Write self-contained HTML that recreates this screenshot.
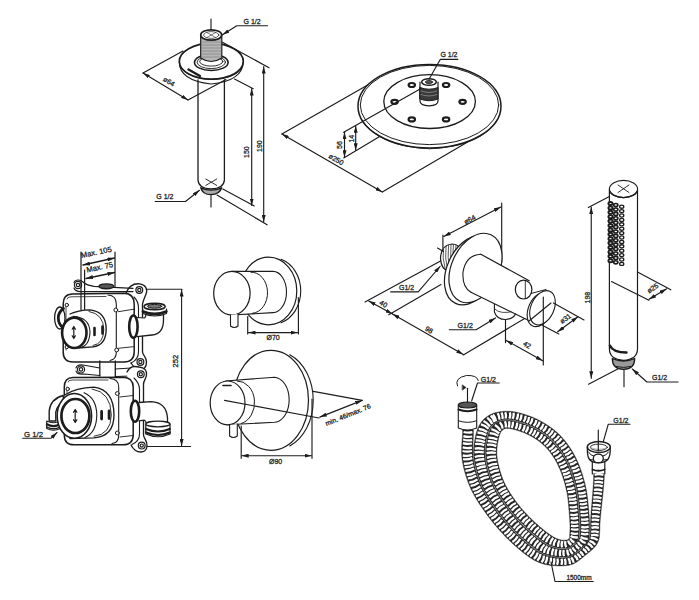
<!DOCTYPE html>
<html><head><meta charset="utf-8"><style>
html,body{margin:0;padding:0;background:#fff;}
svg{display:block;}
text{font-family:"Liberation Sans",sans-serif;fill:#1c1c1c;}
</style></head><body>
<svg width="699" height="600" viewBox="0 0 699 600">
<defs>
<marker id="ar" viewBox="0 0 10 4" refX="10" refY="2" markerWidth="7" markerHeight="4" orient="auto-start-reverse" markerUnits="userSpaceOnUse" preserveAspectRatio="none"><path d="M0,0 L10,2 L0,4 z" fill="#1c1c1c"/></marker>
</defs>
<rect width="699" height="600" fill="#fff"/>
<g fill="none" stroke="#1c1c1c" stroke-width="1.15" stroke-linecap="round" stroke-linejoin="round">
<!-- ===== C1: ceiling arm ===== -->
<g id="c1">
<!-- axis top -->
<line x1="211" y1="19" x2="211" y2="32"/>
<!-- pipe -->
<path d="M198,80 L198,180 Q198.5,188.5 211,189 Q223.9,188.5 224.4,180 L224.4,80" stroke-width="1.3"/>
<path d="M205.8,179 L216.7,185.4 M205.8,185.4 L216.7,179" stroke-width="0.9"/>
<!-- bottom nut -->
<path d="M200.8,187.8 Q211,192.5 221.7,187.8 Q219.5,194.6 211,194.6 Q202.5,194.6 200.8,187.8 Z" fill="#aaa" stroke-width="1.4"/>
<line x1="211" y1="195" x2="211" y2="207"/>
<!-- flange -->
<path d="M179.3,62 Q179.5,80.5 211,84 Q242.5,81 243.3,62" stroke-width="1.1"/>
<path d="M181,68 Q190,78.5 211,79.5 Q234,79 241.5,69" stroke-width="0.9"/>
<ellipse cx="211.3" cy="61.3" rx="32" ry="17.9" stroke-width="1.7"/>
<path d="M188.5,69.5 L200,76" stroke-width="2.4"/>
<!-- nut ring -->
<ellipse cx="211.3" cy="62.4" rx="16.8" ry="8.1" stroke-width="1.6"/>
<ellipse cx="211.3" cy="62.2" rx="14.2" ry="6.4" stroke-width="0.9"/>
<ellipse cx="211.3" cy="61.5" rx="11.6" ry="4.6" stroke-width="0.9"/>
<!-- nipple -->
<path d="M200.7,35 L200.7,58 Q211,65 221.8,58 L221.8,35" fill="#b5b5b5" stroke-width="1.2"/>
<path d="M201.5,42 h19.5 M201.5,45 h19.5 M201.5,48 h19.5 M201.5,51 h19.5 M201.5,54 h19.5 M201.5,57 h19.5" stroke="#888" stroke-width="0.8"/>
<ellipse cx="211.2" cy="35" rx="10.5" ry="5.2" fill="#fff" stroke-width="1.7"/>
<ellipse cx="211.2" cy="35" rx="7.6" ry="3.4" stroke-width="0.7"/>
<path d="M207,32.5 L215.5,37.5 M207,37.5 L215.5,32.5" stroke-width="0.6"/>
<!-- G1/2 leader -->
<path d="M267.5,25.75 H236.75 L222.5,34.75" marker-end="url(#ar)"/>
<text x="243.5" y="23.6" font-size="7" stroke="#1c1c1c" stroke-width="0.28">G 1/2</text>
<!-- ø64 -->
<path d="M183,51 L143,73"/>
<path d="M226,79.5 L188,100"/>
<line x1="143" y1="73" x2="188" y2="100" marker-start="url(#ar)" marker-end="url(#ar)"/>
<text x="0" y="0" font-size="7" stroke="#1c1c1c" stroke-width="0.28" transform="translate(162.5,80.5) rotate(31)">ø64</text>
<!-- 190 -->
<path d="M222.5,42.25 L269,67.75"/>
<line x1="263.7" y1="66.5" x2="263.7" y2="222" marker-start="url(#ar)" marker-end="url(#ar)"/>
<path d="M217,195 L267.1,224.8"/>
<text x="0" y="0" font-size="7" stroke="#1c1c1c" stroke-width="0.28" transform="translate(261.5,152) rotate(-90)">190</text>
<!-- 150 -->
<path d="M234.5,79 L253.25,88.75"/>
<line x1="251.7" y1="88.5" x2="251.7" y2="205.5" marker-start="url(#ar)" marker-end="url(#ar)"/>
<path d="M222.8,189.1 L254.3,206"/>
<text x="0" y="0" font-size="7" stroke="#1c1c1c" stroke-width="0.28" transform="translate(249,158) rotate(-90)">150</text>
<!-- bottom G1/2 -->
<path d="M155.2,201.5 H185.5 L199.5,190.3" marker-end="url(#ar)"/>
<text x="156.3" y="199.4" font-size="7" stroke="#1c1c1c" stroke-width="0.28">G 1/2</text>
</g>

<!-- ===== C2: shower head ===== -->
<g id="c2">
<ellipse cx="429.5" cy="106.2" rx="71.5" ry="41.8" stroke-width="1.5"/>
<ellipse cx="429.5" cy="105" rx="69.2" ry="39.6" stroke-width="1"/>
<path d="M362,120 Q378,146 429.5,148.8 Q482,146 497,120" stroke-width="0.9"/>
<ellipse cx="429.6" cy="101.6" rx="45.8" ry="26.9" stroke-width="1.3"/>
<g fill="#fff" stroke-width="2.2">
<ellipse cx="411.8" cy="85" rx="3.2" ry="2"/>
<ellipse cx="446.1" cy="85" rx="3.2" ry="2"/>
<ellipse cx="394.6" cy="101.8" rx="3.2" ry="2"/>
<ellipse cx="462.6" cy="101.8" rx="3.2" ry="2"/>
<ellipse cx="411.8" cy="119.4" rx="3.2" ry="2"/>
<ellipse cx="446.1" cy="119.4" rx="3.2" ry="2"/>
</g>
<!-- nipple -->
<path d="M420,82 L420,101 Q420,105.5 429,105.8 Q438,105.5 438,101 L438,82" fill="#fff" stroke-width="1.2"/>
<path d="M420,87.5 Q429,91 438,87.5 L438,99 Q429,102.5 420,99 Z" fill="#3a3a3a" stroke-width="1"/>
<path d="M421,91 Q429,94 437,91 M421,94.5 Q429,97.5 437,94.5" stroke="#aaa" stroke-width="0.6"/>
<ellipse cx="429" cy="82" rx="7.3" ry="3.3" fill="#fff" stroke-width="1.5"/>
<ellipse cx="429" cy="82" rx="3.6" ry="1.6" fill="#555" stroke-width="0.8"/>
<!-- G1/2 -->
<path d="M457.9,59.3 H440.4 L429,79.3"/>
<text x="440.4" y="57.4" font-size="7" stroke="#1c1c1c" stroke-width="0.28">G 1/2</text>
<!-- ø250 -->
<path d="M281.9,134 L368.6,84.6"/>
<line x1="281.9" y1="134" x2="382.3" y2="192" marker-start="url(#ar)" marker-end="url(#ar)"/>
<path d="M382.3,192 L467.2,142.3"/>
<text x="0" y="0" font-size="7" stroke="#1c1c1c" stroke-width="0.28" transform="translate(328,157.5) rotate(30)">ø250</text>
<!-- 56 / 14 -->
<path d="M343.7,132.3 L421,88.5"/>
<path d="M343.7,158 L379.7,136.6"/>
<line x1="344.5" y1="132.3" x2="344.5" y2="157.2" marker-start="url(#ar)" marker-end="url(#ar)"/>
<line x1="355.7" y1="125.8" x2="355.7" y2="150.3" marker-start="url(#ar)" marker-end="url(#ar)"/>
<text x="0" y="0" font-size="7" stroke="#1c1c1c" stroke-width="0.28" transform="translate(342,149) rotate(-90)">56</text>
<text x="0" y="0" font-size="7" stroke="#1c1c1c" stroke-width="0.28" transform="translate(353.5,142.6) rotate(-90)">14</text>
</g>

<!-- ===== C3: thermostatic body ===== -->
<g id="c3" stroke-width="1.35">
<!-- Max dims -->
<line x1="83" y1="265" x2="114.5" y2="258" marker-start="url(#ar)" marker-end="url(#ar)"/>
<line x1="86" y1="278.5" x2="114.5" y2="272.5" marker-start="url(#ar)" marker-end="url(#ar)"/>
<text x="0" y="0" font-size="7.6" stroke="#1c1c1c" stroke-width="0.28" transform="translate(81.5,258) rotate(-12)">Max. 105</text>
<text x="0" y="0" font-size="7.6" stroke="#1c1c1c" stroke-width="0.28" transform="translate(87,272.5) rotate(-12)">Max. 75</text>
<!-- 252 -->
<path d="M146,289.2 H182" stroke-width="1.1"/>
<path d="M146.7,446.5 H190.6" stroke-width="1.1"/>
<line x1="181.6" y1="289.5" x2="181.6" y2="446" stroke-width="1.1" marker-start="url(#ar)" marker-end="url(#ar)"/>
<text x="0" y="0" font-size="7.6" stroke="#1c1c1c" stroke-width="0.28" transform="translate(178,367.5) rotate(-90)">252</text>
<!-- G1/2 -->
<path d="M22.7,438.2 H51.2 L57,432.5" stroke-width="1.1" marker-end="url(#ar)"/>
<text x="24" y="436.6" font-size="7.8" stroke="#1c1c1c" stroke-width="0.28">G 1/2</text>

<!-- ===== upper module ===== -->
<!-- right bracket upper -->
<path d="M126,293 C129,285 135,283.5 139.5,283.8 C145.5,284.5 148,289 146,294 C144.5,298 143,301 142.5,304 L142.5,352 C143,356 146.5,357 146.5,362 C146.5,368 143,370 140.5,370 C136,370 133,366 131,363" fill="#fff"/>
<path d="M134,297 C137,300 138.5,303 138.5,308 L138.5,352 C138.5,357 135.5,361 131,363" stroke-width="1.1"/>
<!-- top rail -->
<path d="M74,282.5 C75,279.5 80,279 83,282 Q87,285.5 94,286.3 L133,288.3" fill="none" stroke-width="1.2"/>
<path d="M74,288 C75,291 78,291.8 82,291.5 L133,291.6" fill="none" stroke-width="1.2"/>
<!-- upper box -->
<path d="M72,294 L124,293.2 Q134,293.5 134.2,304 L134.2,352 Q134,362 124,362 L73,362 Q63.2,362 63.2,352 L63.2,304 Q63.2,294.2 72,294 Z" fill="#fff" stroke-width="1.5"/>
<path d="M108,295 Q116.3,295.5 116.3,304 L116.3,352 Q116.3,359.5 110,360.5" stroke-width="1.1"/>
<path d="M67,299 Q67,297 71,296.8 L106,296.5 M66,304 L66,350" stroke-width="0.8"/>
<path d="M118.3,311.7 L134,309.2 M118.3,348.3 L133.3,346.7" stroke-width="0.9"/>
<g fill="#fff" stroke-width="1"><circle cx="66.8" cy="305" r="1.7"/><circle cx="115.8" cy="310" r="1.9"/><circle cx="116.7" cy="350" r="1.9"/><circle cx="66.8" cy="347" r="1.7"/></g>
<!-- rings upper -->
<g fill="#fff" stroke-width="1.2">
<circle cx="78" cy="285" r="3.6"/><circle cx="78" cy="285" r="1.7"/>
<circle cx="139.3" cy="290" r="3.4"/><circle cx="139.3" cy="290" r="1.6"/>
<circle cx="140.4" cy="362" r="3.4"/><circle cx="140.4" cy="362" r="1.6"/>
</g>
<ellipse cx="106.3" cy="286.3" rx="7.3" ry="2.4" fill="#555" stroke-width="1.4"/>
<!-- ext lines over box -->
<line x1="81" y1="252" x2="81" y2="313" stroke-width="1.2"/>
<line x1="115" y1="252" x2="115" y2="287" stroke-width="1.2"/>
<line x1="84.6" y1="270" x2="84.6" y2="313" stroke-width="1.2"/>
<!-- left cap upper -->
<ellipse cx="59.8" cy="318" rx="5.2" ry="11" fill="#fff" stroke-width="1.3"/>
<path d="M63.5,308.5 Q58.3,312 58.3,318 Q58.3,324.5 63.5,328" stroke-width="2.8"/>
<!-- knob upper -->
<path d="M70,314 Q78,310 90,309.8 Q106,311.5 106.2,329 Q106,345.5 93,346.8 L78,348" fill="#fff"/>
<path d="M89,311.5 Q103.5,314 103.8,329.5 Q103.5,344 93,345.5" stroke-width="0.9"/>
<path d="M94.5,328 v7 M102.5,326.5 v7" stroke-width="2.6"/>
<path d="M73,316.3 Q89.5,317.5 90,332 Q89.5,346 80,347.5" stroke-width="1.1"/>
<ellipse cx="74.3" cy="332.8" rx="12.2" ry="15.2" fill="#fff" stroke-width="2.6"/>
<path d="M73.8,327 v11 M72.2,329.2 L73.8,326.5 L75.4,329.2 M72.2,335.8 L73.8,338.5 L75.4,335.8" stroke-width="1.2"/>
<!-- upper elbow -->
<path d="M137,317.5 L144.5,318 Q146,317 146,313.5 L163.5,313.5 L163.5,320 Q163.5,334 152,335 L137,336.6 Z" fill="#fff" stroke="none"/>
<path d="M137,317.5 L144.5,318 Q146,317 146,313.5" stroke-width="1.2"/>
<path d="M137,336.6 L152,335 Q163.5,334 163.5,320 L163.5,313.5" stroke-width="1.3"/>
<path d="M142.8,309 L142.8,313.5 Q154.6,318.5 166.5,313.5 L166.5,309" fill="#fff" stroke-width="1.2"/>
<path d="M143,311.5 Q154.6,316.5 166.3,311.5" stroke-width="2.8"/>
<ellipse cx="154.6" cy="306.5" rx="10.6" ry="3.2" fill="#fff" stroke-width="1.5"/>
<ellipse cx="154.6" cy="306.3" rx="7.2" ry="1.9" fill="#777" stroke-width="1"/>
<ellipse cx="133.4" cy="326.7" rx="4.2" ry="11.2" fill="#fff" stroke-width="2.6"/>

<!-- ===== middle ===== -->
<path d="M99.8,361 L99.8,376 M115.3,361 L115.3,377" stroke-width="1.3"/>
<path d="M76,368 C77,364.5 80,364.5 83,365 L99.8,368 M76,371 C77,374 80,374.5 84,374 L99.8,375.5 M115.3,369 L131,368 M115.3,376.5 L131,376" stroke-width="1.1"/>
<circle cx="81" cy="369.4" r="3.6" fill="#fff" stroke-width="1.2"/><circle cx="81" cy="369.4" r="1.7" stroke-width="1.2"/>

<!-- ===== lower module ===== -->
<path d="M127,372 C130,366 134,366 139,367 C145,367.5 147,371 146.5,375 C146,379 143.5,381 143.5,384 L143.5,435 C144,439 147,440 147,445.5 C147,451 143,452 141,452 C136,452 133,449 131,445" fill="#fff"/>
<path d="M134,378 C137,381 139.5,384 139.5,389 L139.5,434 C139.5,439 136.5,442.5 132,444.5" stroke-width="1.1"/>
<path d="M73,377.4 L123,377.2 Q133,377.4 133.2,387 L133.2,435 Q133,444.8 123,444.8 L74,444.8 Q64.3,444.8 64.3,435 L64.3,387 Q64.3,377.6 73,377.4 Z" fill="#fff" stroke-width="1.5"/>
<path d="M110,378.5 Q118.7,379 118.7,387 L118.7,435 Q118.7,443 112,443.5" stroke-width="1.1"/>
<path d="M68,382 Q68,380.2 72,380 L108,380 M67,387 L67,433" stroke-width="0.8"/>
<path d="M120,397 L133,395.5 M120,437 L133,435.5" stroke-width="0.9"/>
<g fill="#fff" stroke-width="1"><circle cx="67.7" cy="389" r="1.7"/><circle cx="117.3" cy="393.5" r="1.9"/><circle cx="117.3" cy="433" r="1.9"/><circle cx="67.7" cy="431" r="1.7"/></g>
<g fill="#fff" stroke-width="1.2">
<circle cx="140.8" cy="374.2" r="3.4"/><circle cx="140.8" cy="374.2" r="1.6"/>
<circle cx="141.7" cy="445.6" r="3.4"/><circle cx="141.7" cy="445.6" r="1.6"/>
</g>
<!-- lower left pipe -->
<path d="M63,395.5 Q50.5,399 49.2,411 L49.2,421 L55.8,421 L55.8,412 Q57,405 64,402 Z" fill="#fff" stroke-width="1.4"/>
<path d="M46.7,421 Q53.5,424.5 60.2,421 L60.2,428.5 Q53.5,432 46.7,428.5 Z" fill="#fff" stroke-width="1.2"/>
<path d="M46.9,424.3 Q53.5,427.8 60,424.3" stroke-width="2.2"/>
<path d="M46.9,427 Q53.5,430.5 60,427" stroke-width="1.4"/>
<!-- knob lower -->
<path d="M64.2,395.2 Q76,387.8 94,387.2 Q113.8,390 114,415 Q113.8,436.5 94,437.8 L70,438.5" fill="#fff"/>
<path d="M92,389 Q111,392 111.3,415 Q111,434.5 94,436.3" stroke-width="0.9"/>
<path d="M101.6,411.5 v7.5 M109.1,411 v7.5" stroke-width="2.8"/>
<path d="M84,392.8 Q96.5,398 96.8,415 Q96.5,432.5 85,437.5" stroke-width="1.1"/>
<ellipse cx="74.4" cy="415.9" rx="17.2" ry="22.4" fill="#fff" stroke-width="1.5"/>
<ellipse cx="75.4" cy="416" rx="14" ry="17" fill="#fff" stroke-width="2.7"/>
<path d="M75.2,410 v12 M73.5,412.3 L75.2,409.5 L76.9,412.3 M73.5,419.7 L75.2,422.5 L76.9,419.7" stroke-width="1.2"/>
<!-- lower elbow -->
<path d="M139,402.5 L151,401.7 Q166.5,402.5 167.5,418 L167.5,423 L146,423 Q146,420.5 145,420 L139,420.8 Z" fill="#fff" stroke="none"/>
<path d="M139,402.5 L151,401.7 Q166.5,402.5 167.5,418 L167.5,423" stroke-width="1.3"/>
<path d="M139,420.8 L144.5,420.2 Q146,420.8 146,423" stroke-width="1.2"/>
<path d="M145.8,424 L145.8,434 Q158,439.5 170,434 L170,424" fill="#fff" stroke-width="1.2"/>
<path d="M146,429 Q158,434 169.8,429 M146,432.5 Q158,437.5 169.8,432.5" stroke-width="2.2"/>
<ellipse cx="157.9" cy="424" rx="12.1" ry="2.8" fill="#fff" stroke-width="1.3"/>
<ellipse cx="135" cy="411.2" rx="4.2" ry="10.5" fill="#fff" stroke-width="2.6"/>
</g>
<!-- ===== C4: plates ===== -->
<g id="c4">
<!-- upper plate -->
<ellipse cx="268.5" cy="291" rx="28.3" ry="33.8" stroke-width="1.2"/>
<path d="M281.1,259.3 A28.3,33.3 0 0 1 281.1,322.7" stroke-width="1.1"/>
<path d="M231.9,271.4 L273,271.4 A13.5,20.6 0 0 1 273,312.6 L231.9,315" fill="#fff" stroke-width="1.1"/>
<path d="M250.9,272.2 A15,19.5 0 0 1 252.5,313.3" stroke-width="1"/>
<ellipse cx="231.9" cy="293.2" rx="18.2" ry="21.8" fill="#fff" stroke-width="1.2"/>
<path d="M230.5,315 L230.5,326 Q234.3,329 238,326 L238,314" fill="#fff" stroke-width="1.1"/>
<line x1="247.7" y1="316.5" x2="247.7" y2="334"/>
<line x1="298.4" y1="297.5" x2="298.4" y2="334"/>
<line x1="248.5" y1="332.6" x2="297.6" y2="332.6" marker-start="url(#ar)" marker-end="url(#ar)"/>
<text x="266.5" y="339.6" font-size="7" stroke="#1c1c1c" stroke-width="0.28">Ø70</text>
<!-- lower plate -->
<ellipse cx="271" cy="400.3" rx="37.5" ry="50" stroke-width="1.2"/>
<path d="M289.8,354.7 A37.5,49.2 0 0 1 289.8,445.9" stroke-width="1.1"/>
<path d="M225.8,381 L274.7,377.2 A15.5,22.6 0 0 1 274.7,422.3 L227,424.8" fill="#fff" stroke-width="1.1"/>
<path d="M237.3,381 A17,21.5 0 0 1 241.2,423.5" stroke-width="1"/>
<ellipse cx="227.6" cy="402.9" rx="17.4" ry="21.9" fill="#fff" stroke-width="1.2"/>
<path d="M223,385.5 h8" stroke-width="1.6"/>
<path d="M229.6,425 L229.6,436 Q233.4,439 237.3,436 L237.3,424" fill="#fff" stroke-width="1.1"/>
<line x1="241.2" y1="426" x2="241.2" y2="458.3"/>
<line x1="312" y1="399" x2="312" y2="458.3"/>
<line x1="241.7" y1="455.7" x2="311.5" y2="455.7" marker-start="url(#ar)" marker-end="url(#ar)"/>
<text x="269" y="463.7" font-size="7" stroke="#1c1c1c" stroke-width="0.28">Ø90</text>
<path d="M224.5,400.4 L319,418"/>
<path d="M313.3,391.4 L362.2,400.4"/>
<line x1="319.8" y1="417.1" x2="362.2" y2="400.4" marker-start="url(#ar)" marker-end="url(#ar)"/>
<text x="0" y="0" font-size="6.8" stroke="#1c1c1c" stroke-width="0.28" transform="translate(326.5,426) rotate(-22)">min. 46/max. 76</text>
</g>

<!-- ===== C5: wall outlet ===== -->
<g id="c5">
<!-- dims ø64 -->
<line x1="442.9" y1="235" x2="442.9" y2="250.7"/>
<line x1="501.7" y1="203" x2="501.7" y2="262"/>
<line x1="443.8" y1="236.5" x2="500.8" y2="207" marker-start="url(#ar)" marker-end="url(#ar)"/>
<text x="0" y="0" font-size="7" stroke="#1c1c1c" stroke-width="0.28" transform="translate(465.5,224.5) rotate(-28)">ø64</text>
<!-- 40 / 98 -->
<path d="M365,302 L441,260.75"/>
<path d="M388.8,314.8 L441,284.6"/>
<line x1="368.7" y1="301" x2="392.5" y2="314" marker-start="url(#ar)" marker-end="url(#ar)"/>
<line x1="392.5" y1="314" x2="463.3" y2="354.4" marker-start="url(#ar)" marker-end="url(#ar)"/>
<path d="M463.3,355 L549.1,304"/>
<text x="0" y="0" font-size="7" stroke="#1c1c1c" stroke-width="0.28" transform="translate(378.8,304) rotate(30)">40</text>
<text x="0" y="0" font-size="7" stroke="#1c1c1c" stroke-width="0.28" transform="translate(424.5,330) rotate(30)">98</text>
<!-- G1/2 #1 -->
<path d="M390.7,291.9 H418.2 L440.2,266.25" marker-end="url(#ar)"/>
<text x="399" y="290.2" font-size="7" stroke="#1c1c1c" stroke-width="0.28">G1/2</text>
<!-- thread -->
<path d="M452,244 Q459,244 460,250 L460,268 L450,271 Q441,270.5 440.5,258 Q441,245 452,244 Z" fill="#fff" stroke-width="1.2"/>
<path d="M443.5,248.5 Q442,258 445,268 M446,246 Q444.5,258 447.5,269.5 M448.5,245 Q447,258 450,270 M451,244.5 Q449.5,258 452.5,270 M453.5,244.5 Q452,258 455,269.5 M456,245 Q454.5,258 457.5,269" stroke="#444" stroke-width="0.9"/>
<line x1="437.5" y1="248" x2="443.5" y2="251.5"/>
<!-- flange disc -->
<ellipse cx="471" cy="270.2" rx="23.8" ry="36.6" transform="rotate(25 471 270.2)" fill="#fff" stroke-width="1.2"/>
<ellipse cx="475.5" cy="268" rx="23.8" ry="36.6" transform="rotate(25 475.5 268)" fill="#fff" stroke-width="1.2"/>
<!-- nut below -->
<path d="M494.4,304 L494.4,312 Q497,319.5 505.5,319.5 Q514,319 515.8,313 L515.8,306" fill="#fff" stroke-width="1.1"/>
<path d="M494.8,309 Q500,315 515,311" stroke-width="0.8"/>
<!-- arm -->
<path d="M480.8,254.2 L531,281.5 L531,321 L473,293.3 Q462,285 462.7,274 Q465,258 480.8,254.2 Z" fill="#fff" stroke="none"/>
<path d="M480.8,254.2 L529.2,280.8" stroke-width="1.1"/>
<path d="M471,292.3 L530.8,321.5" stroke-width="1.1"/>
<path d="M480.8,254.2 Q466,255 463,272 Q462,287 471,292.3" stroke-width="1.1"/>
<ellipse cx="523.6" cy="289.6" rx="8.3" ry="9.4" fill="#fff" stroke-width="1.2"/>
<line x1="525.3" y1="281" x2="525.3" y2="298.5" stroke-width="0.9"/>
<path d="M531,293.5 L546,289.5" stroke-width="1"/>
<ellipse cx="540" cy="309.5" rx="11.5" ry="18" transform="rotate(24 540 309.5)" fill="#fff" stroke-width="1.1"/>
<ellipse cx="542.5" cy="307.8" rx="11.5" ry="18" transform="rotate(24 542.5 307.8)" fill="#fff" stroke-width="1.1"/>
<line x1="543.3" y1="297" x2="543.3" y2="365"/>
<line x1="529" y1="321" x2="551" y2="303"/>
<line x1="505.5" y1="320" x2="505.5" y2="342.6"/>
<!-- 42 -->
<line x1="506.2" y1="340.4" x2="542.7" y2="360.8" marker-start="url(#ar)" marker-end="url(#ar)"/>
<text x="0" y="0" font-size="7" stroke="#1c1c1c" stroke-width="0.28" transform="translate(522.5,345) rotate(30)">42</text>
<!-- ø31 -->
<path d="M553.4,302.9 L584,320"/>
<path d="M542.7,325.4 L558.8,334"/>
<line x1="557.7" y1="331.8" x2="578" y2="316.8" marker-start="url(#ar)" marker-end="url(#ar)"/>
<text x="0" y="0" font-size="7" stroke="#1c1c1c" stroke-width="0.28" transform="translate(562,324) rotate(-36)">ø31</text>
<!-- G1/2 #2 -->
<path d="M449.3,329.7 H476.1 L495.5,317.9" marker-end="url(#ar)"/>
<text x="457.6" y="327.8" font-size="7" stroke="#1c1c1c" stroke-width="0.28">G1/2</text>
</g>

<!-- ===== C6: hand shower ===== -->
<g id="c6">
<path d="M609.4,189.3 L609.4,349 Q609.6,359.5 623.5,360.3 Q637.3,359.5 637.5,349 L637.5,189.3" fill="#fff" stroke-width="1.2"/>
<ellipse cx="623.5" cy="189" rx="14.1" ry="8.6" fill="#fff" stroke-width="1.1"/>
<path d="M609.6,191 Q612,197 623.5,197.6 Q635,197 637.3,191" stroke-width="1.4"/>
<path d="M618,185 L629,192.5 M618,192.5 L629,185" stroke-width="0.9"/>
<g fill="#fff">
<ellipse cx="610.5" cy="203.5" rx="2.1" ry="1.55" stroke-width="1.9"/>
<ellipse cx="615.8" cy="205.1" rx="2.1" ry="1.55" stroke-width="1.6"/>
<ellipse cx="621.7" cy="206.7" rx="2.1" ry="1.55" stroke-width="1.3"/>
<ellipse cx="610.5" cy="207.9" rx="2.1" ry="1.55" stroke-width="1.9"/>
<ellipse cx="615.8" cy="209.5" rx="2.1" ry="1.55" stroke-width="1.6"/>
<ellipse cx="621.7" cy="211.1" rx="2.1" ry="1.55" stroke-width="1.3"/>
<ellipse cx="610.5" cy="212.3" rx="2.1" ry="1.55" stroke-width="1.9"/>
<ellipse cx="615.8" cy="213.9" rx="2.1" ry="1.55" stroke-width="1.6"/>
<ellipse cx="621.7" cy="215.5" rx="2.1" ry="1.55" stroke-width="1.3"/>
<ellipse cx="610.5" cy="216.7" rx="2.1" ry="1.55" stroke-width="1.9"/>
<ellipse cx="615.8" cy="218.3" rx="2.1" ry="1.55" stroke-width="1.6"/>
<ellipse cx="621.7" cy="219.9" rx="2.1" ry="1.55" stroke-width="1.3"/>
<ellipse cx="610.5" cy="221.1" rx="2.1" ry="1.55" stroke-width="1.9"/>
<ellipse cx="615.8" cy="222.7" rx="2.1" ry="1.55" stroke-width="1.6"/>
<ellipse cx="621.7" cy="224.3" rx="2.1" ry="1.55" stroke-width="1.3"/>
<ellipse cx="610.5" cy="225.5" rx="2.1" ry="1.55" stroke-width="1.9"/>
<ellipse cx="615.8" cy="227.1" rx="2.1" ry="1.55" stroke-width="1.6"/>
<ellipse cx="621.7" cy="228.7" rx="2.1" ry="1.55" stroke-width="1.3"/>
<ellipse cx="610.5" cy="229.9" rx="2.1" ry="1.55" stroke-width="1.9"/>
<ellipse cx="615.8" cy="231.5" rx="2.1" ry="1.55" stroke-width="1.6"/>
<ellipse cx="621.7" cy="233.1" rx="2.1" ry="1.55" stroke-width="1.3"/>
<ellipse cx="610.5" cy="234.3" rx="2.1" ry="1.55" stroke-width="1.9"/>
<ellipse cx="615.8" cy="235.9" rx="2.1" ry="1.55" stroke-width="1.6"/>
<ellipse cx="621.7" cy="237.5" rx="2.1" ry="1.55" stroke-width="1.3"/>
<ellipse cx="610.5" cy="238.7" rx="2.1" ry="1.55" stroke-width="1.9"/>
<ellipse cx="615.8" cy="240.3" rx="2.1" ry="1.55" stroke-width="1.6"/>
<ellipse cx="621.7" cy="241.9" rx="2.1" ry="1.55" stroke-width="1.3"/>
<ellipse cx="610.5" cy="243.1" rx="2.1" ry="1.55" stroke-width="1.9"/>
<ellipse cx="615.8" cy="244.7" rx="2.1" ry="1.55" stroke-width="1.6"/>
<ellipse cx="621.7" cy="246.3" rx="2.1" ry="1.55" stroke-width="1.3"/>
<ellipse cx="610.5" cy="247.5" rx="2.1" ry="1.55" stroke-width="1.9"/>
<ellipse cx="615.8" cy="249.1" rx="2.1" ry="1.55" stroke-width="1.6"/>
<ellipse cx="621.7" cy="250.7" rx="2.1" ry="1.55" stroke-width="1.3"/>
<ellipse cx="610.5" cy="251.9" rx="2.1" ry="1.55" stroke-width="1.9"/>
<ellipse cx="615.8" cy="253.5" rx="2.1" ry="1.55" stroke-width="1.6"/>
<ellipse cx="621.7" cy="255.1" rx="2.1" ry="1.55" stroke-width="1.3"/>
<ellipse cx="610.5" cy="256.3" rx="2.1" ry="1.55" stroke-width="1.9"/>
<ellipse cx="615.8" cy="257.9" rx="2.1" ry="1.55" stroke-width="1.6"/>
<ellipse cx="621.7" cy="259.5" rx="2.1" ry="1.55" stroke-width="1.3"/>
<ellipse cx="610.5" cy="260.7" rx="2.1" ry="1.55" stroke-width="1.9"/>
<ellipse cx="615.8" cy="262.3" rx="2.1" ry="1.55" stroke-width="1.6"/>
<ellipse cx="621.7" cy="263.9" rx="2.1" ry="1.55" stroke-width="1.3"/>
</g>
<path d="M609.8,345.5 Q613,352.5 626.5,352.5" stroke-width="2.4"/>
<path d="M612.3,358.5 Q612.3,369.3 623.5,369.3 Q634.7,369.3 634.7,358.5 Q629,361 623.5,361 Q618,361 612.3,358.5 Z" fill="#9a9a9a" stroke-width="1.3"/>
<path d="M616,366.5 Q623.5,368.5 631,366.5" stroke-width="1"/>
<line x1="624" y1="369.5" x2="624" y2="386.7"/>
<!-- 198 -->
<path d="M588.3,207.6 L609.4,196.6"/>
<path d="M588.5,384.2 L617.7,369"/>
<line x1="591.25" y1="207" x2="591.25" y2="378.3" marker-start="url(#ar)" marker-end="url(#ar)"/>
<text x="0" y="0" font-size="7" stroke="#1c1c1c" stroke-width="0.28" transform="translate(589.5,303.5) rotate(-90)">198</text>
<!-- ø25 -->
<path d="M637.5,272 L670.8,289.8"/>
<path d="M611.5,281.5 L649,300.2"/>
<line x1="649" y1="299.2" x2="666.7" y2="288.75" marker-start="url(#ar)" marker-end="url(#ar)"/>
<text x="0" y="0" font-size="7" stroke="#1c1c1c" stroke-width="0.28" transform="translate(649,293.5) rotate(-33)">ø25</text>
<!-- G1/2 -->
<path d="M678.1,382 H646.9 L632.3,369" marker-end="url(#ar)"/>
<text x="652" y="379.6" font-size="7" stroke="#1c1c1c" stroke-width="0.28">G1/2</text>
</g>

<!-- ===== C7: hose ===== -->
<g id="c7" stroke-linecap="butt">
<path d="M462.6,430.0 L462.6,430.7 L462.6,431.4 L462.6,432.0 L462.6,432.7 L462.5,433.4 L462.5,434.0 L462.5,434.7 L462.4,435.4 L462.4,436.0 L462.4,436.7 L462.3,437.4 L462.3,438.0 L462.2,438.7 L462.1,439.4 L462.1,440.1 L462.0,440.8 L462.0,441.5 L461.9,442.3 L461.9,443.0 L461.8,443.7 L461.8,444.5 L461.7,445.2 L461.7,445.9 L461.7,446.6 L461.7,447.4 L461.6,448.1 L461.6,448.8 L461.6,449.5 L461.6,450.2 L461.6,451.0 L461.6,451.7 L461.6,452.4 L461.6,453.2 L461.6,454.0 L461.7,454.8 L461.7,455.5 L461.8,456.3 L461.8,457.1 L461.9,457.8 L462.0,458.6 L462.1,459.4 L462.2,460.1 L462.3,460.9 L462.4,461.6 L462.5,462.4 L462.7,463.1 L462.8,463.8 L463.0,464.6 L463.1,465.3 L463.3,466.0 L463.4,466.7 L463.6,467.5 L463.8,468.2 L463.9,468.9 L464.1,469.6 L464.3,470.3 L464.5,471.0 L464.7,471.7 L464.9,472.4 L465.1,473.1 L465.3,473.8 L465.5,474.5 L465.7,475.2 L465.9,475.9 L466.1,476.6 L466.4,477.3 L466.6,478.0 L466.8,478.7 L467.1,479.4 L467.3,480.1 L467.6,480.8 L467.8,481.5 L468.1,482.2 L468.3,482.9 L468.6,483.6 L468.9,484.3 L469.1,484.9 L469.4,485.6 L469.7,486.3 L470.0,487.0 L470.3,487.7 L470.6,488.3 L470.9,489.0 L471.2,489.7 L471.6,490.4 L471.9,491.0 L472.2,491.7 L472.6,492.3 L472.9,493.0 L473.3,493.6 L473.6,494.3 L474.0,494.9 L474.3,495.6 L474.7,496.2 L475.0,496.8 L475.4,497.5 L475.8,498.1 L476.1,498.7 L476.5,499.4 L476.9,500.0 L477.3,500.6 L477.7,501.2 L478.0,501.8 L478.4,502.4 L478.8,503.0 L479.2,503.7 L479.6,504.3 L480.0,504.9 L480.4,505.5 L480.8,506.1 L481.2,506.7 L481.6,507.3 L482.0,507.8 L482.4,508.4 L482.8,509.0 L483.2,509.6 L483.7,510.2 L484.1,510.8 L484.5,511.4 L484.9,512.0 L485.3,512.5 L485.7,513.1 L486.2,513.7 L486.6,514.3 L487.0,514.8 L487.4,515.4 L487.8,516.0 L488.3,516.6 L488.7,517.1 L489.1,517.7 L489.6,518.3 L490.0,518.8 L490.5,519.4 L490.9,520.0 L491.3,520.5 L491.8,521.1 L492.2,521.7 L492.7,522.2 L493.1,522.8 L493.6,523.3 L494.0,523.9 L494.5,524.5 L495.0,525.0 L495.4,525.6 L495.9,526.1 L496.4,526.6 L496.8,527.2 L497.3,527.7 L497.8,528.3 L498.2,528.8 L498.7,529.4 L499.2,529.9 L499.7,530.4 L500.1,531.0 L500.6,531.5 L501.1,532.0 L501.6,532.5 L502.1,533.1 L502.6,533.6 L503.1,534.1 L503.6,534.6 L504.0,535.2 L504.5,535.7 L505.0,536.2 L505.5,536.7 L506.0,537.2 L506.5,537.7 L507.0,538.2 L507.6,538.8 L508.1,539.3 L508.6,539.8 L509.1,540.3 L509.6,540.8 L510.1,541.3 L510.6,541.8 L511.2,542.3 L511.7,542.8 L512.2,543.3 L512.7,543.7 L513.3,544.2 L513.8,544.7 L514.3,545.2 L514.9,545.7 L515.4,546.1 L516.0,546.6 L516.5,547.1 L517.0,547.6 L517.6,548.0 L518.1,548.5 L518.7,549.0 L519.2,549.4 L519.8,549.9 L520.3,550.3 L520.9,550.8 L521.4,551.3 L522.0,551.7 L522.6,552.2 L523.1,552.6 L523.7,553.1 L524.3,553.5 L524.8,553.9 L525.4,554.4 L526.0,554.8 L526.6,555.3 L527.2,555.7 L527.8,556.1 L528.4,556.5 L529.0,557.0 L529.6,557.4 L530.2,557.8 L530.8,558.2 L531.5,558.6 L532.1,559.0 L532.8,559.4 L533.4,559.8 L534.1,560.2 L534.8,560.5 L535.5,560.9 L536.2,561.3 L536.9,561.6 L537.6,561.9 L538.3,562.2 L539.0,562.5 L539.7,562.8 L540.5,563.1 L541.2,563.3 L542.0,563.6 L542.7,563.8 L543.5,564.0 L544.2,564.2 L545.0,564.4 L545.7,564.6 L546.5,564.7 L547.2,564.9 L548.0,565.0 L548.7,565.1 L549.5,565.3 L550.2,565.4 L551.0,565.4 L551.8,565.5 L552.5,565.6 L553.3,565.7 L554.0,565.7 L554.7,565.8 L555.5,565.8 L556.2,565.8 L557.0,565.8 L557.7,565.9 L558.4,565.9 L559.2,565.9 L559.9,565.9 L560.6,565.9 L561.4,565.9 L562.1,565.9 L562.9,565.9 L563.6,565.8 L564.4,565.8 L565.2,565.8 L565.9,565.7 L566.7,565.6 L567.5,565.5 L568.3,565.4 L569.2,565.2 L570.0,565.0 L570.8,564.8 L571.6,564.5 L572.4,564.3 L573.2,563.9 L574.0,563.6 L574.7,563.2 L575.4,562.8 L576.1,562.4 L576.8,562.0 L577.5,561.5 L578.1,561.1 L578.7,560.6 L579.3,560.2 L579.9,559.7 L580.5,559.3 L581.1,558.8 L581.6,558.4 L582.2,557.9 L582.8,557.5 L583.3,557.0 L583.9,556.5 L584.4,556.1 L585.0,555.6 L585.6,555.1 L586.1,554.7 L586.7,554.2 L587.3,553.7 L587.8,553.3 L588.4,552.8 L589.0,552.4 L589.5,551.9 L590.1,551.4 L590.7,550.9 L591.2,550.5 L591.8,550.0 L592.4,549.5 L592.9,548.9 L593.5,548.4 L594.0,547.8 L594.6,547.2 L595.1,546.6 L595.7,545.9 L596.2,545.2 L596.7,544.5 L597.1,543.7 L597.6,542.9 L598.0,542.1 L598.3,541.2 L598.6,540.4 L598.9,539.5 L599.1,538.6 L599.3,537.7 L599.4,536.8 L599.5,535.9 L599.5,535.1 L599.6,534.4 L599.6,533.8 L599.6,533.1 L599.7,532.3 L599.7,531.6 L599.8,530.9 L599.8,530.2 L599.9,529.4 L599.9,528.6 L599.9,527.9 L599.9,527.2 L599.9,526.5 L599.9,525.8 L599.9,525.2 L600.0,524.5 L600.0,523.8 L600.0,523.2 L600.1,522.5 L600.1,521.8 L600.2,521.1 L600.2,520.5 L600.3,519.8 L600.3,519.1 L600.4,518.4 L600.4,517.7 L600.5,517.0 L600.6,516.4 L600.6,515.7 L600.7,515.0 L600.8,514.3 L600.8,513.6 L600.9,512.9 L601.0,512.2 L601.0,511.5 L601.1,510.9 L601.2,510.2 L601.3,509.5 L601.3,508.8 L601.4,508.1 L601.5,507.4 L601.6,506.7 L601.6,506.0 L601.7,505.3 L601.8,504.6 L601.9,503.9 L601.9,503.2 L602.0,502.5 L602.1,501.8 L602.2,501.1 L602.3,500.4 L602.3,499.7 L602.4,499.0 L602.5,498.3 L602.6,497.7 L602.6,497.0 L602.7,496.2 L602.8,495.6 L602.9,494.8 L602.9,494.1 L603.0,493.4 L603.1,492.7 L603.1,492.0 L603.2,491.3 L603.3,490.6 L603.4,489.9 L603.4,489.2 L603.5,488.5 L603.5,487.8 L603.6,487.1 L603.7,486.4 L603.7,485.7 L603.8,485.0 L603.8,484.2 L603.9,483.5 L604.0,482.8 L604.0,482.1 L604.0,481.4 L604.1,480.7 L604.1,480.0 L604.2,479.2 L604.2,478.5 L604.3,477.8 L604.3,477.1 L604.3,476.3 L604.3,475.6 L604.4,474.9 L604.4,474.2 L604.4,473.5 L593.6,473.4 L593.6,474.1 L593.6,474.7 L593.6,475.4 L593.6,476.1 L593.6,476.8 L593.6,477.4 L593.6,478.1 L593.5,478.8 L593.5,479.5 L593.5,480.1 L593.5,480.8 L593.4,481.5 L593.4,482.2 L593.4,482.9 L593.3,483.6 L593.3,484.2 L593.3,484.9 L593.2,485.6 L593.2,486.3 L593.1,487.0 L593.1,487.7 L593.0,488.4 L593.0,489.1 L592.9,489.7 L592.9,490.4 L592.8,491.1 L592.8,491.8 L592.7,492.5 L592.7,493.2 L592.6,493.9 L592.6,494.6 L592.5,495.3 L592.4,496.0 L592.4,496.7 L592.3,497.4 L592.3,498.1 L592.2,498.7 L592.1,499.4 L592.1,500.1 L592.0,500.8 L592.0,501.5 L591.9,502.2 L591.8,502.9 L591.8,503.6 L591.7,504.3 L591.7,505.0 L591.6,505.7 L591.5,506.4 L591.5,507.1 L591.4,507.8 L591.4,508.5 L591.3,509.2 L591.2,509.9 L591.2,510.6 L591.1,511.3 L591.1,512.0 L591.0,512.8 L591.0,513.5 L590.9,514.2 L590.9,514.9 L590.8,515.6 L590.8,516.3 L590.7,517.0 L590.7,517.7 L590.6,518.4 L590.6,519.1 L590.6,519.9 L590.5,520.6 L590.5,521.3 L590.5,522.0 L590.4,522.8 L590.4,523.5 L590.4,524.2 L590.4,524.9 L590.4,525.7 L590.4,526.4 L590.4,527.1 L590.4,527.8 L590.4,528.5 L590.4,529.1 L590.3,529.8 L590.3,530.4 L590.3,531.1 L590.2,531.8 L590.2,532.5 L590.2,533.2 L590.1,533.9 L590.1,534.6 L590.0,535.2 L590.0,535.7 L589.9,536.2 L589.8,536.7 L589.8,537.2 L589.6,537.6 L589.5,538.1 L589.4,538.5 L589.2,538.9 L589.0,539.4 L588.8,539.9 L588.5,540.3 L588.3,540.8 L588.0,541.2 L587.7,541.7 L587.3,542.2 L587.0,542.7 L586.6,543.2 L586.2,543.7 L585.8,544.2 L585.4,544.7 L585.0,545.2 L584.6,545.7 L584.1,546.2 L583.7,546.7 L583.2,547.2 L582.7,547.7 L582.3,548.2 L581.8,548.7 L581.3,549.1 L580.8,549.6 L580.3,550.0 L579.8,550.4 L579.3,550.9 L578.7,551.3 L578.2,551.7 L577.7,552.1 L577.1,552.5 L576.6,552.9 L576.0,553.3 L575.5,553.7 L574.9,554.0 L574.4,554.4 L573.9,554.7 L573.3,555.0 L572.8,555.3 L572.3,555.6 L571.7,555.9 L571.2,556.1 L570.7,556.4 L570.2,556.6 L569.6,556.8 L569.1,557.0 L568.6,557.1 L568.1,557.2 L567.6,557.3 L567.0,557.4 L566.4,557.5 L565.8,557.6 L565.2,557.6 L564.6,557.7 L564.0,557.7 L563.4,557.7 L562.7,557.8 L562.1,557.8 L561.4,557.8 L560.8,557.7 L560.1,557.7 L559.4,557.7 L558.7,557.6 L558.1,557.6 L557.4,557.5 L556.8,557.5 L556.1,557.4 L555.4,557.3 L554.8,557.3 L554.2,557.2 L553.5,557.1 L552.9,557.0 L552.2,556.9 L551.6,556.7 L551.0,556.6 L550.4,556.5 L549.7,556.3 L549.1,556.2 L548.5,556.0 L547.9,555.8 L547.3,555.7 L546.7,555.5 L546.1,555.3 L545.5,555.1 L545.0,554.9 L544.4,554.6 L543.8,554.4 L543.3,554.1 L542.7,553.9 L542.1,553.6 L541.6,553.4 L541.0,553.1 L540.5,552.8 L539.9,552.5 L539.4,552.2 L538.8,551.9 L538.3,551.5 L537.8,551.2 L537.2,550.9 L536.7,550.5 L536.1,550.2 L535.6,549.8 L535.1,549.4 L534.5,549.0 L534.0,548.7 L533.4,548.3 L532.9,547.9 L532.4,547.5 L531.8,547.1 L531.3,546.7 L530.8,546.2 L530.2,545.8 L529.7,545.4 L529.2,545.0 L528.7,544.6 L528.1,544.1 L527.6,543.7 L527.1,543.3 L526.6,542.8 L526.0,542.4 L525.5,542.0 L525.0,541.5 L524.5,541.1 L524.0,540.6 L523.4,540.2 L522.9,539.7 L522.4,539.3 L521.9,538.8 L521.4,538.4 L520.9,537.9 L520.4,537.5 L519.9,537.0 L519.4,536.5 L518.9,536.1 L518.4,535.6 L517.9,535.1 L517.4,534.7 L516.9,534.2 L516.4,533.7 L515.9,533.3 L515.4,532.8 L515.0,532.3 L514.5,531.8 L514.0,531.3 L513.5,530.9 L513.0,530.4 L512.6,529.9 L512.1,529.4 L511.6,528.9 L511.2,528.4 L510.7,527.9 L510.2,527.4 L509.8,526.9 L509.3,526.4 L508.8,525.9 L508.4,525.4 L507.9,524.9 L507.5,524.4 L507.0,523.9 L506.5,523.4 L506.1,522.9 L505.6,522.3 L505.2,521.8 L504.8,521.3 L504.3,520.8 L503.9,520.3 L503.4,519.7 L503.0,519.2 L502.6,518.7 L502.1,518.2 L501.7,517.6 L501.3,517.1 L500.8,516.6 L500.4,516.0 L500.0,515.5 L499.6,515.0 L499.2,514.4 L498.7,513.9 L498.3,513.4 L497.9,512.8 L497.5,512.3 L497.1,511.7 L496.7,511.2 L496.3,510.6 L495.9,510.1 L495.5,509.5 L495.1,509.0 L494.7,508.4 L494.3,507.8 L493.9,507.3 L493.5,506.7 L493.1,506.2 L492.7,505.6 L492.3,505.0 L491.9,504.5 L491.5,503.9 L491.2,503.3 L490.8,502.8 L490.4,502.2 L490.0,501.6 L489.7,501.1 L489.3,500.5 L488.9,499.9 L488.6,499.3 L488.2,498.8 L487.8,498.2 L487.5,497.6 L487.1,497.0 L486.8,496.5 L486.4,495.9 L486.1,495.3 L485.8,494.7 L485.4,494.1 L485.1,493.5 L484.8,492.9 L484.4,492.4 L484.1,491.8 L483.8,491.2 L483.5,490.6 L483.2,490.0 L482.9,489.4 L482.6,488.8 L482.3,488.2 L482.0,487.6 L481.7,487.0 L481.5,486.4 L481.2,485.8 L480.9,485.2 L480.6,484.6 L480.4,484.0 L480.1,483.4 L479.9,482.8 L479.6,482.2 L479.4,481.6 L479.2,481.0 L478.9,480.3 L478.7,479.7 L478.5,479.1 L478.2,478.5 L478.0,477.8 L477.8,477.2 L477.6,476.6 L477.4,476.0 L477.2,475.3 L477.0,474.7 L476.8,474.0 L476.6,473.4 L476.4,472.8 L476.2,472.1 L476.0,471.5 L475.9,470.8 L475.7,470.2 L475.5,469.6 L475.4,468.9 L475.2,468.3 L475.0,467.6 L474.9,467.0 L474.7,466.3 L474.6,465.7 L474.4,465.0 L474.3,464.4 L474.2,463.7 L474.0,463.1 L473.9,462.4 L473.8,461.8 L473.7,461.2 L473.6,460.5 L473.5,459.9 L473.4,459.2 L473.3,458.6 L473.2,458.0 L473.2,457.3 L473.1,456.7 L473.1,456.1 L473.0,455.5 L473.0,454.8 L472.9,454.2 L472.9,453.6 L472.9,453.0 L472.9,452.3 L472.9,451.7 L472.9,451.0 L472.9,450.3 L472.9,449.6 L472.9,449.0 L472.9,448.3 L472.9,447.6 L472.9,446.9 L472.9,446.2 L472.9,445.6 L473.0,444.9 L473.0,444.2 L473.0,443.6 L473.0,442.9 L473.1,442.2 L473.1,441.6 L473.1,440.9 L473.2,440.2 L473.2,439.5 L473.2,438.8 L473.3,438.0 L473.3,437.3 L473.3,436.6 L473.4,435.8 L473.4,435.1 L473.4,434.4 L473.4,433.6 L473.4,432.9 L473.4,432.2 L473.4,431.4 L473.4,430.7 L473.4,430.0 Z" fill="#262626" stroke="#262626" stroke-width="0.4"/>
<path d="M463.6,432.0 Q468.0,433.3 472.4,432.2 M463.4,436.1 Q467.8,437.5 472.3,436.5 M463.1,439.5 Q467.6,441.0 472.2,440.1 M462.9,443.1 Q467.4,444.5 472.0,443.5 M462.7,447.4 Q467.3,448.7 471.9,447.6 M462.6,451.0 Q467.2,452.2 471.9,451.0 M462.7,455.5 Q467.4,456.4 472.0,454.9 M463.1,459.2 Q467.8,459.9 472.3,458.1 M463.8,463.7 Q468.5,464.0 472.8,462.0 M464.6,467.2 Q469.3,467.4 473.5,465.2 M465.5,470.8 Q470.1,470.8 474.2,468.5 M466.7,475.0 Q471.3,474.8 475.3,472.4 M467.8,478.4 Q472.4,478.2 476.2,475.6 M469.3,482.5 Q473.8,482.1 477.5,479.4 M470.6,485.9 Q475.1,485.4 478.7,482.6 M472.5,489.9 Q476.9,489.2 480.3,486.3 M474.1,493.2 Q478.5,492.3 481.7,489.3 M475.9,496.4 Q480.2,495.4 483.3,492.3 M478.1,500.1 Q482.3,499.0 485.2,495.8 M480.1,503.1 Q484.2,501.9 487.0,498.7 M482.4,506.7 Q486.5,505.4 489.2,502.2 M484.5,509.6 Q488.5,508.3 491.1,505.0 M487.0,513.1 Q490.9,511.7 493.5,508.4 M489.1,516.0 Q493.0,514.6 495.5,511.2 M491.2,518.8 Q495.1,517.3 497.5,514.0 M493.9,522.2 Q497.7,520.6 500.1,517.2 M496.2,524.9 Q500.0,523.3 502.2,519.9 M499.0,528.2 Q502.7,526.5 504.9,523.0 M501.4,530.8 Q505.1,529.1 507.2,525.6 M504.3,534.0 Q507.9,532.1 510.0,528.6 M506.8,536.5 Q510.4,534.7 512.3,531.1 M509.3,539.1 Q512.9,537.1 514.7,533.5 M512.4,542.0 Q515.9,540.0 517.7,536.3 M515.0,544.4 Q518.5,542.4 520.2,538.7 M518.2,547.3 Q521.7,545.1 523.3,541.4 M521.0,549.6 Q524.4,547.4 525.9,543.6 M524.3,552.3 Q527.6,550.0 529.1,546.2 M527.2,554.5 Q530.4,552.1 531.8,548.3 M530.2,556.6 Q533.3,554.1 534.5,550.2 M533.9,558.9 Q536.9,556.3 537.8,552.4 M537.3,560.7 Q540.0,557.9 540.6,554.0 M541.6,562.4 Q543.9,559.4 544.0,555.6 M545.2,563.4 Q547.3,560.4 547.1,556.6 M549.7,564.3 Q551.4,561.1 550.8,557.6 M553.4,564.7 Q554.9,561.5 554.0,558.2 M557.0,564.8 Q558.4,561.8 557.4,558.5 M561.4,564.9 Q562.6,561.8 561.4,558.8 M565.1,564.8 Q566.1,561.7 564.7,558.7 M569.8,564.1 Q570.2,560.9 568.3,558.2 M573.6,562.7 Q573.4,559.5 571.1,557.3 M577.6,560.3 Q577.0,557.2 574.4,555.6 M580.5,558.0 Q579.8,555.1 577.2,553.7 M583.3,555.8 Q582.5,552.9 579.9,551.6 M586.6,553.0 Q585.7,550.2 582.9,548.9 M589.4,550.7 Q588.2,547.7 585.3,546.5 M592.7,547.7 Q591.0,544.6 587.7,543.4 M595.3,544.7 Q593.0,541.8 589.4,540.9 M597.7,540.1 Q594.5,537.8 590.6,537.9 M598.5,535.8 Q594.8,534.3 591.0,535.3 M598.7,532.3 Q595.0,530.9 591.2,531.8 M598.9,527.9 Q595.1,526.7 591.4,527.8 M599.0,524.5 Q595.2,523.2 591.4,524.2 M599.2,520.4 Q595.5,519.0 591.6,519.9 M599.5,517.0 Q595.7,515.5 591.8,516.4 M599.9,512.8 Q596.1,511.3 592.1,512.1 M600.3,509.4 Q596.4,507.8 592.4,508.6 M600.6,505.9 Q596.8,504.3 592.7,505.1 M601.1,501.7 Q597.2,500.1 593.0,500.9 M601.5,498.3 Q597.5,496.7 593.3,497.5 M601.9,494.1 Q597.9,492.5 593.7,493.3 M602.3,490.5 Q598.2,489.0 593.9,489.8 M602.7,486.3 Q598.5,484.8 594.2,485.7 M603.0,482.8 Q598.8,481.3 594.4,482.3 M603.2,479.2 Q598.9,477.8 594.5,478.8 M603.4,474.9 Q599.0,473.6 594.6,474.8" fill="none" stroke="#fff" stroke-width="2.3" stroke-linecap="butt"/>
<path d="M495.0,423.0 L495.5,422.7 L496.0,422.4 L496.5,422.1 L496.9,421.8 L497.5,421.6 L498.0,421.3 L498.5,421.1 L499.1,420.9 L499.6,420.7 L500.2,420.5 L500.7,420.3 L501.3,420.2 L501.9,420.1 L502.5,419.9 L503.1,419.8 L503.7,419.7 L504.4,419.6 L505.0,419.6 L505.6,419.5 L506.2,419.5 L506.8,419.5 L507.4,419.5 L508.1,419.5 L508.7,419.5 L509.3,419.6 L509.9,419.6 L510.5,419.7 L511.1,419.7 L511.8,419.8 L512.4,419.9 L513.0,420.0 L513.6,420.2 L514.3,420.3 L514.9,420.4 L515.6,420.6 L516.2,420.7 L516.8,420.9 L517.5,421.0 L518.1,421.2 L518.7,421.4 L519.4,421.6 L520.0,421.8 L520.7,422.0 L521.3,422.2 L521.9,422.4 L522.6,422.6 L523.2,422.8 L523.8,423.0 L524.5,423.2 L525.1,423.4 L525.7,423.7 L526.4,423.9 L527.0,424.2 L527.6,424.4 L528.2,424.6 L528.9,424.9 L529.5,425.2 L530.1,425.4 L530.7,425.7 L531.3,426.0 L531.9,426.2 L532.5,426.5 L533.1,426.8 L533.7,427.1 L534.3,427.4 L534.8,427.7 L535.4,428.0 L536.0,428.3 L536.6,428.6 L537.2,429.0 L537.7,429.3 L538.3,429.6 L538.9,430.0 L539.5,430.3 L540.0,430.7 L540.6,431.0 L541.2,431.4 L541.7,431.8 L542.3,432.1 L542.8,432.5 L543.4,432.9 L543.9,433.3 L544.5,433.6 L545.0,434.0 L545.5,434.4 L546.0,434.8 L546.6,435.2 L547.1,435.6 L547.6,436.0 L548.1,436.5 L548.6,436.9 L549.1,437.3 L549.6,437.7 L550.1,438.2 L550.6,438.6 L551.1,439.0 L551.6,439.5 L552.0,439.9 L552.5,440.4 L553.0,440.9 L553.4,441.3 L553.9,441.8 L554.3,442.3 L554.8,442.8 L555.2,443.2 L555.6,443.7 L556.1,444.2 L556.5,444.7 L556.9,445.2 L557.3,445.8 L557.7,446.3 L558.1,446.8 L558.5,447.3 L558.9,447.8 L559.3,448.4 L559.7,448.9 L560.1,449.4 L560.5,450.0 L560.9,450.5 L561.3,451.0 L561.6,451.6 L562.0,452.2 L562.3,452.7 L562.7,453.3 L563.1,453.8 L563.4,454.4 L563.7,455.0 L564.1,455.5 L564.4,456.1 L564.7,456.7 L565.1,457.3 L565.4,457.8 L565.7,458.4 L566.0,459.0 L566.3,459.6 L566.6,460.2 L566.9,460.8 L567.2,461.4 L567.5,462.0 L567.8,462.6 L568.1,463.2 L568.4,463.8 L568.6,464.4 L568.9,465.0 L569.2,465.6 L569.4,466.2 L569.7,466.9 L569.9,467.5 L570.2,468.1 L570.4,468.7 L570.7,469.3 L570.9,470.0 L571.2,470.6 L571.4,471.2 L571.6,471.9 L571.8,472.5 L572.1,473.1 L572.3,473.8 L572.5,474.4 L572.7,475.1 L572.9,475.7 L573.1,476.4 L573.3,477.0 L573.5,477.6 L573.7,478.3 L573.9,478.9 L574.1,479.6 L574.3,480.2 L574.5,480.9 L574.7,481.5 L574.8,482.2 L575.0,482.9 L575.2,483.5 L575.4,484.2 L575.5,484.8 L575.7,485.5 L575.9,486.1 L576.0,486.8 L576.2,487.4 L576.3,488.1 L576.4,488.7 L576.6,489.4 L576.7,490.1 L576.8,490.7 L577.0,491.4 L577.1,492.0 L577.2,492.7 L577.3,493.3 L577.4,494.0 L577.5,494.7 L577.6,495.3 L577.7,496.0 L577.8,496.7 L577.9,497.3 L578.0,498.0 L578.1,498.7 L578.2,499.4 L578.2,500.0 L578.3,500.7 L578.4,501.4 L578.5,502.1 L578.5,502.8 L578.6,503.4 L578.7,504.1 L578.7,504.8 L578.8,505.5 L578.9,506.2 L578.9,506.9 L579.0,507.6 L579.0,508.2 L579.1,508.9 L579.1,509.6 L579.2,510.3 L579.3,511.0 L579.3,511.7 L579.4,512.4 L579.4,513.1 L579.5,513.8 L579.5,514.5 L579.6,515.2 L579.6,515.9 L579.7,516.6 L579.7,517.3 L579.8,518.0 L579.8,518.6 L579.9,519.3 L579.9,520.0 L580.0,520.7 L580.0,521.4 L580.0,522.0 L580.1,522.7 L580.1,523.4 L580.1,524.1 L580.1,524.8 L580.2,525.4 L580.2,526.1 L580.2,526.8 L580.2,527.4 L580.2,528.1 L580.2,528.7 L580.2,529.4 L580.1,530.0 L580.1,530.6 L580.1,531.3 L580.0,532.0 L580.0,532.7 L579.9,533.5 L579.9,534.2 L579.9,534.8 L579.8,535.3 L579.8,535.9 L579.7,536.3 L579.6,536.7 L579.6,537.1 L579.5,537.5 L579.3,537.9 L579.2,538.3 L579.0,538.6 L578.8,539.1 L578.6,539.5 L578.3,539.9 L578.0,540.4 L577.7,540.9 L577.3,541.4 L576.9,541.9 L576.5,542.4 L576.0,542.9 L575.6,543.4 L575.1,543.9 L574.6,544.3 L574.1,544.8 L573.6,545.2 L573.1,545.6 L572.5,546.0 L572.0,546.4 L571.5,546.7 L571.0,547.0 L570.5,547.3 L570.0,547.6 L569.5,547.8 L569.1,548.0 L568.6,548.2 L568.1,548.4 L567.7,548.5 L567.2,548.6 L566.7,548.7 L566.2,548.8 L565.6,548.9 L565.1,548.9 L564.5,549.0 L563.9,549.0 L563.3,549.0 L562.6,549.0 L562.0,548.9 L561.3,548.9 L560.7,548.9 L560.0,548.8 L559.4,548.7 L558.8,548.7 L558.1,548.6 L557.5,548.5 L556.9,548.4 L556.3,548.2 L555.7,548.1 L555.0,548.0 L554.4,547.8 L553.8,547.6 L553.3,547.5 L552.7,547.3 L552.1,547.1 L551.5,546.9 L550.9,546.7 L550.4,546.5 L549.8,546.2 L549.3,546.0 L548.7,545.7 L548.2,545.5 L547.6,545.2 L547.1,544.9 L546.6,544.6 L546.0,544.3 L545.5,544.0 L545.0,543.7 L544.4,543.3 L543.9,543.0 L543.4,542.6 L542.8,542.3 L542.3,541.9 L541.8,541.5 L541.2,541.1 L540.7,540.7 L540.2,540.3 L539.6,539.9 L539.1,539.5 L538.6,539.1 L538.0,538.7 L537.5,538.3 L537.0,537.9 L536.4,537.5 L535.9,537.0 L535.4,536.6 L534.9,536.2 L534.3,535.7 L533.8,535.3 L533.3,534.9 L532.8,534.4 L532.3,534.0 L531.7,533.5 L531.2,533.1 L530.7,532.6 L530.2,532.2 L529.7,531.7 L529.2,531.3 L528.7,530.8 L528.2,530.4 L527.7,529.9 L527.2,529.5 L526.7,529.0 L526.2,528.5 L525.7,528.1 L525.2,527.6 L524.7,527.1 L524.2,526.7 L523.7,526.2 L523.2,525.7 L522.7,525.2 L522.2,524.8 L521.8,524.3 L521.3,523.8 L520.8,523.3 L520.3,522.8 L519.9,522.3 L519.4,521.8 L518.9,521.3 L518.5,520.9 L518.0,520.4 L517.5,519.9 L517.1,519.4 L516.6,518.8 L516.2,518.3 L515.7,517.8 L515.2,517.3 L514.8,516.8 L514.4,516.3 L513.9,515.8 L513.5,515.3 L513.0,514.8 L512.6,514.2 L512.1,513.7 L511.7,513.2 L511.3,512.7 L510.9,512.1 L510.4,511.6 L510.0,511.1 L509.6,510.6 L509.2,510.0 L508.7,509.5 L508.3,508.9 L507.9,508.4 L507.5,507.9 L507.1,507.3 L506.7,506.8 L506.3,506.2 L505.9,505.7 L505.5,505.1 L505.1,504.6 L504.7,504.0 L504.3,503.5 L503.9,502.9 L503.5,502.3 L503.1,501.8 L502.7,501.2 L502.3,500.7 L501.9,500.1 L501.6,499.5 L501.2,499.0 L500.8,498.4 L500.4,497.8 L500.1,497.3 L499.7,496.7 L499.3,496.1 L499.0,495.6 L498.6,495.0 L498.3,494.4 L497.9,493.8 L497.6,493.2 L497.2,492.7 L496.9,492.1 L496.6,491.5 L496.2,490.9 L495.9,490.3 L495.6,489.7 L495.3,489.2 L495.0,488.6 L494.7,488.0 L494.3,487.4 L494.0,486.8 L493.7,486.2 L493.5,485.6 L493.2,485.0 L492.9,484.4 L492.6,483.8 L492.4,483.2 L492.1,482.6 L491.8,482.0 L491.6,481.4 L491.3,480.8 L491.1,480.2 L490.9,479.6 L490.6,479.0 L490.4,478.4 L490.2,477.7 L489.9,477.1 L489.7,476.5 L489.5,475.9 L489.3,475.2 L489.1,474.6 L488.9,474.0 L488.7,473.3 L488.5,472.7 L488.3,472.1 L488.1,471.4 L487.9,470.8 L487.8,470.2 L487.6,469.5 L487.4,468.9 L487.3,468.2 L487.1,467.6 L486.9,466.9 L486.8,466.3 L486.6,465.6 L486.5,465.0 L486.3,464.3 L486.2,463.7 L486.1,463.0 L485.9,462.4 L485.8,461.7 L485.7,461.1 L485.6,460.5 L485.5,459.8 L485.4,459.2 L485.3,458.5 L485.2,457.9 L485.1,457.3 L485.1,456.7 L485.0,456.0 L485.0,455.4 L484.9,454.8 L484.9,454.2 L484.9,453.6 L484.9,453.0 L484.8,452.4 L484.8,451.8 L484.9,451.1 L484.9,450.5 L484.9,449.9 L484.9,449.3 L485.0,448.6 L485.0,448.0 L485.1,447.4 L485.1,446.7 L485.2,446.1 L485.3,445.5 L485.4,444.8 L485.5,444.2 L485.6,443.5 L485.7,442.9 L485.8,442.2 L485.9,441.6 L486.0,440.9 L486.1,440.3 L486.3,439.6 L486.4,439.0 L486.5,438.3 L486.7,437.7 L486.8,437.1 L486.9,436.4 L487.1,435.8 L487.2,435.2 L487.4,434.7 L487.6,434.1 L487.7,433.5 L487.9,432.9 L488.1,432.4 L488.3,431.9 L488.5,431.3 L488.7,430.8 L489.0,430.3 L489.2,429.8 L489.4,429.3 L489.7,428.9 L490.0,428.4 L490.2,428.0 L490.5,427.5 L490.8,427.1 L491.1,426.7 L491.4,426.3 L491.8,425.9 L492.1,425.5 L492.5,425.1 L492.9,424.7 L493.3,424.4 L493.7,424.0 L494.1,423.6 L494.6,423.3 L495.1,422.9 L490.2,414.7 L489.5,415.1 L488.7,415.5 L488.0,415.9 L487.3,416.4 L486.6,416.9 L485.9,417.4 L485.2,418.0 L484.5,418.5 L483.9,419.1 L483.3,419.8 L482.7,420.4 L482.1,421.1 L481.6,421.8 L481.0,422.5 L480.6,423.2 L480.1,423.9 L479.6,424.7 L479.2,425.4 L478.8,426.2 L478.5,426.9 L478.1,427.7 L477.8,428.4 L477.5,429.2 L477.2,430.0 L477.0,430.7 L476.7,431.5 L476.5,432.3 L476.3,433.0 L476.1,433.8 L475.9,434.5 L475.7,435.2 L475.6,436.0 L475.4,436.7 L475.3,437.4 L475.1,438.1 L475.0,438.9 L474.9,439.6 L474.7,440.3 L474.6,441.0 L474.5,441.8 L474.4,442.5 L474.2,443.2 L474.1,444.0 L474.0,444.7 L473.9,445.5 L473.9,446.3 L473.8,447.0 L473.7,447.8 L473.7,448.6 L473.6,449.3 L473.6,450.1 L473.6,450.9 L473.5,451.7 L473.5,452.4 L473.6,453.2 L473.6,454.0 L473.6,454.8 L473.7,455.6 L473.7,456.4 L473.8,457.1 L473.9,457.9 L474.0,458.7 L474.1,459.4 L474.2,460.2 L474.3,461.0 L474.5,461.7 L474.6,462.4 L474.7,463.2 L474.9,463.9 L475.0,464.6 L475.2,465.3 L475.4,466.1 L475.5,466.8 L475.7,467.5 L475.9,468.2 L476.1,468.9 L476.2,469.6 L476.4,470.3 L476.6,471.1 L476.8,471.8 L477.0,472.5 L477.2,473.2 L477.4,473.9 L477.7,474.6 L477.9,475.3 L478.1,476.0 L478.3,476.7 L478.6,477.4 L478.8,478.1 L479.1,478.8 L479.3,479.5 L479.6,480.2 L479.8,480.8 L480.1,481.5 L480.4,482.2 L480.6,482.9 L480.9,483.6 L481.2,484.3 L481.5,485.0 L481.8,485.7 L482.1,486.3 L482.4,487.0 L482.8,487.7 L483.1,488.3 L483.4,489.0 L483.8,489.7 L484.1,490.3 L484.5,491.0 L484.8,491.6 L485.2,492.3 L485.5,492.9 L485.9,493.6 L486.2,494.2 L486.6,494.8 L487.0,495.5 L487.4,496.1 L487.7,496.7 L488.1,497.3 L488.5,497.9 L488.9,498.6 L489.3,499.2 L489.7,499.8 L490.0,500.4 L490.4,501.0 L490.8,501.6 L491.2,502.2 L491.6,502.8 L492.0,503.4 L492.4,504.0 L492.9,504.6 L493.3,505.2 L493.7,505.8 L494.1,506.4 L494.5,507.0 L494.9,507.6 L495.3,508.1 L495.8,508.7 L496.2,509.3 L496.6,509.9 L497.0,510.5 L497.4,511.0 L497.9,511.6 L498.3,512.2 L498.7,512.8 L499.2,513.3 L499.6,513.9 L500.1,514.5 L500.5,515.0 L500.9,515.6 L501.4,516.2 L501.8,516.7 L502.3,517.3 L502.8,517.8 L503.2,518.4 L503.7,519.0 L504.1,519.5 L504.6,520.1 L505.1,520.6 L505.5,521.2 L506.0,521.7 L506.5,522.2 L507.0,522.8 L507.4,523.3 L507.9,523.9 L508.4,524.4 L508.9,524.9 L509.4,525.5 L509.8,526.0 L510.3,526.5 L510.8,527.0 L511.3,527.6 L511.8,528.1 L512.3,528.6 L512.8,529.1 L513.3,529.6 L513.8,530.2 L514.3,530.7 L514.8,531.2 L515.3,531.7 L515.8,532.2 L516.4,532.7 L516.9,533.2 L517.4,533.7 L517.9,534.2 L518.4,534.7 L519.0,535.2 L519.5,535.7 L520.0,536.2 L520.5,536.7 L521.1,537.2 L521.6,537.6 L522.1,538.1 L522.7,538.6 L523.2,539.1 L523.8,539.5 L524.3,540.0 L524.8,540.5 L525.4,540.9 L525.9,541.4 L526.5,541.9 L527.0,542.3 L527.6,542.8 L528.1,543.3 L528.7,543.7 L529.3,544.2 L529.8,544.6 L530.4,545.1 L530.9,545.5 L531.5,546.0 L532.1,546.4 L532.7,546.8 L533.3,547.3 L533.8,547.7 L534.4,548.2 L535.0,548.6 L535.6,549.0 L536.2,549.4 L536.9,549.8 L537.5,550.3 L538.1,550.7 L538.8,551.1 L539.4,551.5 L540.1,551.9 L540.7,552.2 L541.4,552.6 L542.1,553.0 L542.8,553.3 L543.6,553.7 L544.3,554.0 L545.0,554.3 L545.8,554.6 L546.5,554.8 L547.3,555.1 L548.0,555.3 L548.8,555.5 L549.6,555.7 L550.3,555.9 L551.1,556.1 L551.9,556.2 L552.6,556.4 L553.4,556.5 L554.2,556.6 L555.0,556.7 L555.7,556.8 L556.5,556.9 L557.3,556.9 L558.0,557.0 L558.8,557.0 L559.5,557.0 L560.3,557.1 L561.0,557.1 L561.8,557.1 L562.5,557.1 L563.3,557.1 L564.1,557.1 L564.9,557.0 L565.7,557.0 L566.5,556.9 L567.4,556.8 L568.2,556.6 L569.1,556.4 L570.0,556.2 L570.8,555.9 L571.7,555.5 L572.5,555.1 L573.3,554.7 L574.0,554.2 L574.7,553.8 L575.3,553.3 L576.0,552.8 L576.6,552.3 L577.2,551.8 L577.7,551.3 L578.3,550.8 L578.8,550.3 L579.4,549.8 L580.0,549.4 L580.5,548.9 L581.1,548.5 L581.7,548.0 L582.3,547.6 L582.9,547.1 L583.5,546.6 L584.1,546.1 L584.8,545.5 L585.4,544.9 L586.0,544.2 L586.6,543.5 L587.1,542.7 L587.6,541.8 L588.1,540.9 L588.5,540.0 L588.8,539.0 L589.0,538.1 L589.2,537.1 L589.3,536.3 L589.3,535.4 L589.4,534.6 L589.4,534.0 L589.4,533.3 L589.5,532.6 L589.5,531.9 L589.6,531.2 L589.6,530.4 L589.7,529.7 L589.7,528.9 L589.7,528.2 L589.7,527.4 L589.7,526.7 L589.7,525.9 L589.7,525.2 L589.6,524.5 L589.6,523.8 L589.6,523.0 L589.6,522.3 L589.5,521.6 L589.5,520.9 L589.5,520.2 L589.4,519.4 L589.4,518.7 L589.3,518.0 L589.3,517.3 L589.2,516.6 L589.2,515.9 L589.1,515.2 L589.1,514.5 L589.0,513.8 L588.9,513.1 L588.9,512.4 L588.8,511.7 L588.8,511.0 L588.7,510.3 L588.7,509.6 L588.6,508.9 L588.5,508.2 L588.5,507.5 L588.4,506.8 L588.4,506.1 L588.3,505.3 L588.2,504.6 L588.2,503.9 L588.1,503.2 L588.0,502.5 L588.0,501.8 L587.9,501.1 L587.8,500.4 L587.7,499.7 L587.7,499.0 L587.6,498.2 L587.5,497.5 L587.4,496.8 L587.3,496.1 L587.2,495.4 L587.1,494.7 L587.0,493.9 L586.9,493.2 L586.8,492.5 L586.7,491.8 L586.5,491.1 L586.4,490.3 L586.3,489.6 L586.1,488.9 L586.0,488.2 L585.8,487.5 L585.7,486.8 L585.5,486.0 L585.4,485.3 L585.2,484.6 L585.0,483.9 L584.9,483.2 L584.7,482.5 L584.5,481.8 L584.3,481.1 L584.1,480.4 L583.9,479.7 L583.7,479.0 L583.5,478.3 L583.3,477.6 L583.1,476.9 L582.9,476.2 L582.7,475.5 L582.5,474.9 L582.3,474.2 L582.1,473.5 L581.8,472.8 L581.6,472.1 L581.4,471.4 L581.2,470.7 L580.9,470.0 L580.7,469.4 L580.4,468.7 L580.2,468.0 L579.9,467.3 L579.7,466.6 L579.4,466.0 L579.1,465.3 L578.9,464.6 L578.6,463.9 L578.3,463.3 L578.0,462.6 L577.7,461.9 L577.4,461.2 L577.1,460.6 L576.8,459.9 L576.5,459.2 L576.2,458.6 L575.9,457.9 L575.5,457.3 L575.2,456.6 L574.9,456.0 L574.5,455.3 L574.2,454.7 L573.8,454.0 L573.5,453.4 L573.1,452.7 L572.7,452.1 L572.4,451.5 L572.0,450.8 L571.6,450.2 L571.2,449.6 L570.8,448.9 L570.4,448.3 L570.0,447.7 L569.6,447.1 L569.2,446.5 L568.8,445.9 L568.4,445.3 L567.9,444.7 L567.5,444.1 L567.1,443.5 L566.6,442.9 L566.2,442.3 L565.7,441.7 L565.2,441.1 L564.8,440.6 L564.3,440.0 L563.8,439.4 L563.3,438.9 L562.8,438.3 L562.3,437.8 L561.8,437.2 L561.3,436.7 L560.8,436.1 L560.3,435.6 L559.8,435.1 L559.2,434.5 L558.7,434.0 L558.2,433.5 L557.6,433.0 L557.1,432.5 L556.5,432.0 L555.9,431.5 L555.4,431.0 L554.8,430.5 L554.2,430.1 L553.6,429.6 L553.1,429.2 L552.5,428.7 L551.9,428.3 L551.3,427.8 L550.7,427.4 L550.1,426.9 L549.5,426.5 L548.9,426.1 L548.3,425.7 L547.7,425.3 L547.0,424.9 L546.4,424.5 L545.8,424.1 L545.2,423.7 L544.6,423.3 L543.9,422.9 L543.3,422.6 L542.7,422.2 L542.0,421.8 L541.4,421.5 L540.8,421.1 L540.1,420.8 L539.4,420.4 L538.8,420.1 L538.1,419.8 L537.5,419.4 L536.8,419.1 L536.1,418.8 L535.4,418.5 L534.8,418.2 L534.1,417.9 L533.4,417.6 L532.7,417.3 L532.1,417.0 L531.4,416.8 L530.7,416.5 L530.0,416.2 L529.3,416.0 L528.7,415.7 L528.0,415.5 L527.3,415.3 L526.6,415.0 L525.9,414.8 L525.2,414.6 L524.5,414.3 L523.8,414.1 L523.1,413.9 L522.4,413.7 L521.7,413.5 L521.0,413.3 L520.3,413.1 L519.6,412.9 L518.8,412.7 L518.1,412.6 L517.4,412.4 L516.7,412.2 L515.9,412.1 L515.2,412.0 L514.5,411.8 L513.7,411.7 L512.9,411.6 L512.2,411.5 L511.4,411.4 L510.6,411.3 L509.8,411.3 L509.1,411.2 L508.3,411.2 L507.5,411.2 L506.7,411.2 L505.9,411.2 L505.1,411.2 L504.4,411.3 L503.6,411.3 L502.8,411.4 L502.0,411.5 L501.3,411.5 L500.5,411.6 L499.7,411.8 L498.9,411.9 L498.1,412.0 L497.3,412.2 L496.5,412.4 L495.7,412.6 L494.9,412.8 L494.1,413.1 L493.4,413.3 L492.6,413.6 L491.8,414.0 L491.0,414.3 L490.3,414.6 Z" fill="#262626" stroke="#262626" stroke-width="0.4"/>
<path d="M496.0,421.2 Q495.6,417.4 493.0,414.5 M499.3,419.7 Q499.6,416.1 497.6,413.2 M502.4,418.9 Q503.1,415.6 501.4,412.5 M505.5,418.5 Q506.6,415.3 505.2,412.2 M509.4,418.6 Q510.8,415.5 509.8,412.3 M512.5,418.9 Q514.2,416.0 513.5,412.7 M516.4,419.7 Q518.3,416.9 517.9,413.5 M519.7,420.6 Q521.7,417.9 521.4,414.5 M523.5,421.8 Q525.7,419.2 525.6,415.7 M526.7,423.0 Q529.0,420.4 529.0,416.9 M529.9,424.2 Q532.2,421.7 532.4,418.2 M533.5,425.9 Q536.0,423.5 536.4,420.0 M536.5,427.4 Q539.1,425.1 539.6,421.7 M540.0,429.5 Q542.7,427.3 543.4,423.8 M542.8,431.3 Q545.7,429.2 546.5,425.7 M546.1,433.6 Q549.1,431.6 550.1,428.2 M548.7,435.7 Q551.8,433.8 553.0,430.4 M551.3,437.9 Q554.4,436.1 555.8,432.7 M554.1,440.6 Q557.4,439.0 559.1,435.8 M556.4,443.1 Q559.8,441.6 561.6,438.4 M558.9,446.2 Q562.4,444.9 564.5,441.8 M560.9,448.8 Q564.5,447.7 566.7,444.7 M563.2,452.2 Q566.8,451.2 569.2,448.3 M564.9,455.0 Q568.6,454.2 571.1,451.3 M566.6,458.0 Q570.3,457.3 572.9,454.5 M568.4,461.6 Q572.2,461.0 575.0,458.4 M569.8,464.6 Q573.6,464.2 576.5,461.7 M571.4,468.4 Q575.2,468.1 578.2,465.7 M572.6,471.5 Q576.4,471.4 579.5,469.0 M573.9,475.4 Q577.8,475.4 580.9,473.1 M574.9,478.7 Q578.8,478.7 582.0,476.5 M575.8,481.9 Q579.7,482.1 583.0,480.0 M576.8,485.9 Q580.7,486.2 584.1,484.1 M577.6,489.2 Q581.5,489.6 584.9,487.7 M578.3,493.2 Q582.2,493.7 585.7,491.9 M578.8,496.5 Q582.7,497.2 586.2,495.5 M579.3,500.6 Q583.2,501.4 586.8,499.8 M579.7,504.0 Q583.5,504.9 587.1,503.3 M580.0,507.5 Q583.8,508.4 587.4,506.8 M580.3,511.6 Q584.1,512.5 587.8,511.0 M580.6,515.1 Q584.4,516.0 588.1,514.5 M580.9,519.3 Q584.7,520.2 588.4,518.8 M581.1,522.7 Q584.9,523.7 588.6,522.4 M581.2,526.8 Q584.9,527.9 588.7,526.7 M581.1,530.0 Q584.8,531.4 588.6,530.4 M580.9,533.5 Q584.6,534.9 588.4,533.9 M580.6,537.0 Q583.9,539.0 587.8,538.8 M579.9,539.2 Q582.2,542.1 585.7,543.0 M578.0,542.1 Q579.2,545.1 582.2,546.4 M575.8,544.6 Q576.6,547.4 579.3,548.6 M572.6,547.2 Q573.4,550.1 576.0,551.5 M570.0,548.7 Q570.3,551.8 572.8,553.8 M567.4,549.6 Q567.0,552.8 568.9,555.5 M563.9,550.0 Q562.8,553.0 564.1,556.1 M560.6,549.9 Q559.3,552.9 560.3,556.1 M556.7,549.3 Q555.1,552.4 555.9,555.8 M553.6,548.6 Q551.7,551.7 552.1,555.3 M550.0,547.4 Q547.7,550.4 547.6,554.1 M547.2,546.1 Q544.5,548.9 544.0,552.8 M544.5,544.5 Q541.5,547.1 540.6,551.0 M541.2,542.3 Q538.0,544.8 536.8,548.6 M538.5,540.3 Q535.2,542.7 533.9,546.5 M535.3,537.8 Q531.9,540.1 530.4,543.8 M532.7,535.6 Q529.2,537.8 527.7,541.6 M529.5,532.9 Q526.1,535.1 524.4,538.8 M527.0,530.7 Q523.5,532.7 521.7,536.4 M524.5,528.3 Q520.9,530.3 519.1,534.0 M521.5,525.5 Q517.9,527.4 516.0,531.0 M519.1,523.0 Q515.5,524.9 513.5,528.4 M516.3,520.0 Q512.6,521.8 510.6,525.3 M514.1,517.5 Q510.3,519.2 508.2,522.7 M511.4,514.4 Q507.6,516.0 505.4,519.4 M509.2,511.7 Q505.4,513.3 503.1,516.7 M507.1,509.0 Q503.3,510.5 500.8,513.9 M504.7,505.7 Q500.8,507.1 498.3,510.4 M502.7,502.9 Q498.7,504.3 496.2,507.6 M500.4,499.5 Q496.3,500.8 493.7,504.0 M498.5,496.7 Q494.4,497.9 491.7,501.1 M496.4,493.2 Q492.2,494.3 489.3,497.4 M494.7,490.2 Q490.5,491.2 487.5,494.3 M493.2,487.3 Q488.9,488.1 485.7,491.2 M491.5,483.6 Q487.1,484.4 483.7,487.3 M490.2,480.6 Q485.7,481.1 482.1,483.9 M488.8,476.8 Q484.2,477.2 480.5,479.8 M487.7,473.7 Q483.1,473.9 479.3,476.4 M486.6,469.8 Q482.0,469.8 478.0,472.2 M485.8,466.5 Q481.1,466.4 477.0,468.7 M485.1,463.3 Q480.4,463.0 476.2,465.1 M484.4,459.3 Q479.7,458.9 475.3,460.8 M484.0,456.1 Q479.3,455.4 474.8,457.0 M483.8,452.4 Q479.2,451.2 474.5,452.4 M483.9,449.2 Q479.4,447.7 474.7,448.6 M484.3,445.3 Q479.9,443.5 475.1,444.1 M484.8,442.1 Q480.5,440.1 475.7,440.5 M485.4,438.8 Q481.1,436.7 476.4,436.9 M486.3,435.0 Q482.2,432.6 477.5,432.5 M487.2,432.0 Q483.4,429.3 478.7,428.8 M488.6,428.8 Q485.4,425.6 480.9,424.4 M490.0,426.5 Q487.5,422.8 483.5,421.0 M492.2,424.0 Q490.7,420.1 487.2,417.7 M494.6,422.1 Q493.6,418.2 490.7,415.6" fill="none" stroke="#fff" stroke-width="2.3" stroke-linecap="butt"/>
<path d="M501.9,430.6 L502.3,430.2 L502.7,429.9 L503.0,429.7 L503.4,429.4 L503.8,429.2 L504.3,429.0 L504.7,428.8 L505.2,428.7 L505.7,428.6 L506.3,428.5 L506.8,428.5 L507.3,428.5 L507.9,428.5 L508.4,428.5 L509.0,428.6 L509.6,428.6 L510.2,428.7 L510.8,428.8 L511.4,428.9 L512.1,429.1 L512.7,429.2 L513.3,429.3 L513.9,429.5 L514.6,429.7 L515.2,429.8 L515.8,430.0 L516.5,430.2 L517.1,430.4 L517.7,430.6 L518.4,430.8 L519.0,431.0 L519.6,431.2 L520.3,431.4 L520.9,431.6 L521.5,431.9 L522.1,432.1 L522.8,432.3 L523.4,432.6 L524.0,432.8 L524.6,433.1 L525.2,433.3 L525.8,433.6 L526.4,433.9 L527.0,434.1 L527.6,434.4 L528.2,434.7 L528.8,435.0 L529.4,435.3 L530.0,435.6 L530.5,435.9 L531.1,436.2 L531.7,436.5 L532.2,436.9 L532.8,437.2 L533.4,437.6 L534.0,437.9 L534.5,438.3 L535.1,438.6 L535.6,439.0 L536.2,439.3 L536.7,439.7 L537.3,440.1 L537.8,440.5 L538.3,440.8 L538.9,441.2 L539.4,441.6 L539.9,442.0 L540.4,442.4 L540.9,442.8 L541.4,443.2 L541.9,443.7 L542.4,444.1 L542.9,444.5 L543.4,445.0 L543.9,445.4 L544.3,445.8 L544.8,446.3 L545.3,446.7 L545.7,447.2 L546.2,447.7 L546.6,448.1 L547.0,448.6 L547.5,449.1 L547.9,449.6 L548.3,450.1 L548.7,450.6 L549.1,451.1 L549.6,451.6 L550.0,452.1 L550.4,452.6 L550.7,453.2 L551.1,453.7 L551.5,454.2 L551.9,454.8 L552.3,455.3 L552.6,455.8 L553.0,456.4 L553.4,456.9 L553.7,457.5 L554.1,458.1 L554.4,458.6 L554.8,459.2 L555.1,459.7 L555.4,460.3 L555.7,460.9 L556.1,461.5 L556.4,462.1 L556.7,462.6 L557.0,463.2 L557.3,463.8 L557.6,464.4 L557.9,465.0 L558.2,465.6 L558.5,466.2 L558.7,466.8 L559.0,467.4 L559.3,468.0 L559.6,468.6 L559.8,469.2 L560.1,469.8 L560.3,470.4 L560.6,471.1 L560.8,471.7 L561.1,472.3 L561.3,472.9 L561.5,473.6 L561.8,474.2 L562.0,474.8 L562.2,475.5 L562.4,476.1 L562.7,476.7 L562.9,477.4 L563.1,478.0 L563.3,478.7 L563.5,479.3 L563.7,480.0 L563.9,480.6 L564.1,481.2 L564.3,481.9 L564.5,482.5 L564.6,483.2 L564.8,483.8 L565.0,484.5 L565.2,485.2 L565.3,485.8 L565.5,486.5 L565.7,487.1 L565.8,487.8 L566.0,488.4 L566.1,489.1 L566.3,489.7 L566.4,490.4 L566.6,491.0 L566.7,491.7 L566.8,492.3 L567.0,493.0 L567.1,493.6 L567.2,494.3 L567.3,495.0 L567.4,495.6 L567.5,496.3 L567.6,496.9 L567.7,497.6 L567.8,498.3 L567.9,499.0 L567.9,499.6 L568.0,500.3 L568.1,501.0 L568.2,501.7 L568.3,502.3 L568.3,503.0 L568.4,503.7 L568.5,504.4 L568.5,505.1 L568.6,505.7 L568.7,506.4 L568.7,507.1 L568.8,507.8 L568.8,508.5 L568.9,509.2 L568.9,509.9 L569.0,510.6 L569.1,511.3 L569.1,512.0 L569.2,512.7 L569.2,513.4 L569.3,514.1 L569.3,514.8 L569.4,515.5 L569.4,516.1 L569.5,516.8 L569.5,517.5 L569.6,518.2 L569.6,518.9 L569.7,519.6 L569.7,520.3 L569.8,520.9 L569.8,521.6 L569.8,522.3 L569.9,523.0 L569.9,523.6 L569.9,524.3 L570.0,525.0 L570.0,525.7 L570.0,526.3 L570.0,527.0 L570.0,527.7 L570.0,528.3 L570.0,529.0 L570.0,529.6 L569.9,530.2 L569.9,530.9 L569.9,531.5 L569.8,532.2 L569.8,533.0 L569.7,533.7 L569.7,534.4 L569.7,535.0 L569.6,535.5 L569.6,535.9 L569.6,536.2 L569.6,536.4 L569.6,536.7 L569.7,536.9 L569.6,537.3 L569.5,537.7 L569.2,538.2 L568.8,538.7 L568.4,539.1 L568.0,539.4 L567.6,539.7 L567.2,539.8 L566.9,539.9 L566.6,540.0 L566.2,540.0 L565.8,540.1 L565.3,540.1 L564.9,540.2 L564.3,540.2 L563.8,540.2 L563.2,540.2 L562.6,540.1 L562.0,540.0 L561.4,539.9 L560.8,539.8 L560.3,539.7 L559.7,539.6 L559.1,539.4 L558.5,539.2 L558.0,539.0 L557.4,538.8 L556.9,538.6 L556.3,538.4 L555.8,538.1 L555.3,537.9 L554.7,537.6 L554.2,537.3 L553.7,537.1 L553.2,536.8 L552.7,536.4 L552.2,536.1 L551.6,535.8 L551.1,535.5 L550.6,535.1 L550.1,534.7 L549.5,534.4 L549.0,534.0 L548.5,533.6 L547.9,533.2 L547.4,532.8 L546.9,532.4 L546.3,532.0 L545.8,531.6 L545.3,531.2 L544.7,530.8 L544.2,530.3 L543.7,529.9 L543.2,529.5 L542.6,529.1 L542.1,528.6 L541.6,528.2 L541.1,527.8 L540.6,527.3 L540.0,526.9 L539.5,526.4 L539.0,526.0 L538.5,525.5 L538.0,525.1 L537.5,524.6 L536.9,524.2 L536.4,523.7 L535.9,523.3 L535.4,522.8 L534.9,522.3 L534.4,521.9 L533.9,521.4 L533.4,521.0 L532.9,520.5 L532.4,520.0 L531.9,519.6 L531.4,519.1 L531.0,518.6 L530.5,518.1 L530.0,517.7 L529.5,517.2 L529.0,516.7 L528.6,516.2 L528.1,515.7 L527.6,515.2 L527.1,514.8 L526.7,514.3 L526.2,513.8 L525.8,513.3 L525.3,512.8 L524.8,512.3 L524.4,511.8 L523.9,511.3 L523.5,510.8 L523.0,510.3 L522.6,509.7 L522.2,509.2 L521.7,508.7 L521.3,508.2 L520.8,507.7 L520.4,507.2 L520.0,506.6 L519.6,506.1 L519.1,505.6 L518.7,505.1 L518.3,504.5 L517.9,504.0 L517.5,503.4 L517.1,502.9 L516.7,502.4 L516.2,501.8 L515.8,501.3 L515.4,500.7 L515.0,500.2 L514.6,499.6 L514.3,499.1 L513.9,498.5 L513.5,498.0 L513.1,497.4 L512.7,496.9 L512.3,496.3 L511.9,495.7 L511.6,495.2 L511.2,494.6 L510.8,494.0 L510.4,493.5 L510.1,492.9 L509.7,492.3 L509.4,491.8 L509.0,491.2 L508.7,490.6 L508.3,490.0 L508.0,489.5 L507.6,488.9 L507.3,488.3 L507.0,487.7 L506.7,487.1 L506.3,486.6 L506.0,486.0 L505.7,485.4 L505.4,484.8 L505.1,484.2 L504.8,483.6 L504.6,483.0 L504.3,482.4 L504.0,481.8 L503.7,481.2 L503.5,480.6 L503.2,480.0 L503.0,479.4 L502.7,478.8 L502.5,478.2 L502.3,477.6 L502.0,477.0 L501.8,476.4 L501.6,475.8 L501.4,475.2 L501.2,474.5 L501.0,473.9 L500.8,473.3 L500.6,472.7 L500.4,472.0 L500.2,471.4 L500.0,470.8 L499.8,470.1 L499.6,469.5 L499.5,468.8 L499.3,468.2 L499.1,467.6 L499.0,466.9 L498.8,466.3 L498.7,465.6 L498.5,465.0 L498.4,464.3 L498.2,463.7 L498.1,463.0 L498.0,462.4 L497.8,461.7 L497.7,461.1 L497.6,460.4 L497.5,459.8 L497.4,459.1 L497.3,458.5 L497.2,457.9 L497.1,457.2 L497.1,456.6 L497.0,456.0 L496.9,455.4 L496.9,454.8 L496.9,454.2 L496.8,453.6 L496.8,453.0 L496.8,452.4 L496.8,451.8 L496.8,451.2 L496.9,450.6 L496.9,449.9 L496.9,449.3 L497.0,448.7 L497.0,448.1 L497.1,447.5 L497.2,446.8 L497.2,446.2 L497.3,445.6 L497.4,444.9 L497.5,444.3 L497.6,443.6 L497.7,443.0 L497.9,442.3 L498.0,441.7 L498.1,441.0 L498.2,440.4 L498.4,439.7 L498.5,439.1 L498.6,438.5 L498.8,437.9 L498.9,437.3 L499.1,436.7 L499.2,436.2 L499.4,435.6 L499.5,435.1 L499.7,434.6 L499.9,434.2 L500.1,433.7 L500.2,433.3 L500.4,432.9 L500.6,432.5 L500.8,432.1 L501.0,431.8 L501.2,431.5 L501.5,431.2 L501.7,430.8 L502.1,430.4 L496.6,422.6 L495.8,423.1 L495.0,423.6 L494.2,424.2 L493.4,424.9 L492.7,425.6 L492.1,426.4 L491.5,427.2 L490.9,428.0 L490.4,428.8 L490.0,429.6 L489.6,430.4 L489.3,431.2 L489.0,432.0 L488.7,432.8 L488.4,433.6 L488.2,434.4 L488.0,435.1 L487.8,435.9 L487.6,436.6 L487.4,437.4 L487.3,438.1 L487.1,438.8 L487.0,439.6 L486.8,440.3 L486.7,441.0 L486.6,441.7 L486.4,442.4 L486.3,443.2 L486.2,443.9 L486.1,444.7 L486.0,445.4 L485.9,446.2 L485.8,447.0 L485.7,447.7 L485.7,448.5 L485.6,449.3 L485.6,450.1 L485.5,450.9 L485.5,451.6 L485.5,452.4 L485.5,453.2 L485.6,454.0 L485.6,454.8 L485.7,455.6 L485.7,456.4 L485.8,457.2 L485.9,458.0 L486.0,458.8 L486.1,459.5 L486.3,460.3 L486.4,461.0 L486.5,461.7 L486.7,462.5 L486.8,463.2 L487.0,463.9 L487.1,464.6 L487.3,465.4 L487.4,466.1 L487.6,466.8 L487.8,467.5 L488.0,468.2 L488.2,468.9 L488.3,469.7 L488.5,470.4 L488.7,471.1 L488.9,471.8 L489.2,472.5 L489.4,473.2 L489.6,473.9 L489.8,474.6 L490.0,475.3 L490.3,476.0 L490.5,476.7 L490.8,477.4 L491.0,478.1 L491.3,478.8 L491.5,479.5 L491.8,480.2 L492.1,480.9 L492.4,481.6 L492.7,482.3 L493.0,482.9 L493.3,483.6 L493.6,484.3 L493.9,485.0 L494.2,485.7 L494.6,486.3 L494.9,487.0 L495.3,487.7 L495.6,488.3 L496.0,489.0 L496.3,489.6 L496.7,490.3 L497.0,490.9 L497.4,491.6 L497.8,492.2 L498.1,492.8 L498.5,493.4 L498.9,494.1 L499.3,494.7 L499.7,495.3 L500.0,495.9 L500.4,496.6 L500.8,497.2 L501.2,497.8 L501.6,498.4 L502.0,499.0 L502.4,499.6 L502.8,500.2 L503.3,500.8 L503.7,501.4 L504.1,502.0 L504.5,502.6 L504.9,503.1 L505.3,503.7 L505.7,504.3 L506.2,504.9 L506.6,505.5 L507.0,506.1 L507.4,506.6 L507.9,507.2 L508.3,507.8 L508.8,508.4 L509.2,508.9 L509.6,509.5 L510.1,510.1 L510.5,510.6 L511.0,511.2 L511.4,511.8 L511.9,512.3 L512.4,512.9 L512.8,513.5 L513.3,514.0 L513.8,514.6 L514.2,515.1 L514.7,515.7 L515.2,516.2 L515.7,516.7 L516.1,517.3 L516.6,517.8 L517.1,518.4 L517.6,518.9 L518.1,519.4 L518.6,520.0 L519.1,520.5 L519.6,521.0 L520.1,521.5 L520.6,522.0 L521.1,522.6 L521.6,523.1 L522.1,523.6 L522.6,524.1 L523.1,524.6 L523.6,525.1 L524.1,525.6 L524.6,526.1 L525.2,526.6 L525.7,527.1 L526.2,527.6 L526.7,528.1 L527.3,528.6 L527.8,529.1 L528.3,529.6 L528.9,530.1 L529.4,530.5 L529.9,531.0 L530.5,531.5 L531.0,532.0 L531.5,532.4 L532.1,532.9 L532.6,533.4 L533.2,533.8 L533.7,534.3 L534.3,534.8 L534.8,535.2 L535.4,535.7 L535.9,536.1 L536.5,536.6 L537.0,537.1 L537.6,537.5 L538.2,538.0 L538.7,538.4 L539.3,538.8 L539.9,539.3 L540.5,539.7 L541.1,540.2 L541.7,540.6 L542.3,541.0 L542.9,541.4 L543.5,541.9 L544.1,542.3 L544.7,542.7 L545.4,543.1 L546.0,543.5 L546.7,543.9 L547.4,544.3 L548.1,544.7 L548.8,545.0 L549.5,545.4 L550.2,545.7 L551.0,546.0 L551.8,546.3 L552.5,546.6 L553.3,546.8 L554.1,547.1 L554.9,547.3 L555.6,547.4 L556.4,547.6 L557.2,547.8 L558.0,547.9 L558.8,548.0 L559.6,548.1 L560.4,548.2 L561.2,548.2 L562.0,548.3 L562.8,548.3 L563.7,548.3 L564.5,548.3 L565.4,548.2 L566.3,548.2 L567.2,548.0 L568.2,547.8 L569.2,547.4 L570.1,547.0 L571.0,546.4 L571.9,545.8 L572.6,545.2 L573.2,544.6 L573.8,544.1 L574.5,543.6 L575.2,543.1 L576.0,542.5 L576.8,541.7 L577.5,540.8 L578.1,539.7 L578.6,538.6 L578.9,537.6 L579.0,536.6 L579.1,535.7 L579.2,534.9 L579.2,534.2 L579.2,533.5 L579.3,532.9 L579.3,532.2 L579.4,531.4 L579.4,530.7 L579.5,529.9 L579.5,529.2 L579.5,528.4 L579.5,527.7 L579.5,526.9 L579.5,526.2 L579.5,525.4 L579.4,524.7 L579.4,524.0 L579.4,523.3 L579.4,522.5 L579.3,521.8 L579.3,521.1 L579.3,520.4 L579.2,519.7 L579.2,519.0 L579.1,518.2 L579.1,517.5 L579.0,516.8 L579.0,516.1 L578.9,515.4 L578.8,514.7 L578.8,514.0 L578.7,513.3 L578.7,512.6 L578.6,511.9 L578.6,511.2 L578.5,510.5 L578.5,509.8 L578.4,509.1 L578.3,508.4 L578.3,507.7 L578.2,507.0 L578.2,506.3 L578.1,505.6 L578.0,504.9 L578.0,504.2 L577.9,503.5 L577.8,502.7 L577.8,502.0 L577.7,501.3 L577.6,500.6 L577.5,499.9 L577.4,499.2 L577.4,498.5 L577.3,497.7 L577.2,497.0 L577.1,496.3 L577.0,495.6 L576.9,494.9 L576.8,494.2 L576.6,493.4 L576.5,492.7 L576.4,492.0 L576.3,491.3 L576.1,490.5 L576.0,489.8 L575.8,489.1 L575.7,488.4 L575.5,487.7 L575.3,486.9 L575.2,486.2 L575.0,485.5 L574.8,484.8 L574.6,484.1 L574.5,483.4 L574.3,482.7 L574.1,482.0 L573.9,481.3 L573.7,480.6 L573.5,479.9 L573.3,479.2 L573.1,478.6 L572.9,477.9 L572.7,477.2 L572.4,476.5 L572.2,475.8 L572.0,475.1 L571.8,474.4 L571.5,473.7 L571.3,473.0 L571.0,472.3 L570.8,471.7 L570.6,471.0 L570.3,470.3 L570.0,469.6 L569.8,468.9 L569.5,468.3 L569.2,467.6 L569.0,466.9 L568.7,466.2 L568.4,465.6 L568.1,464.9 L567.8,464.2 L567.5,463.5 L567.2,462.9 L566.8,462.2 L566.5,461.5 L566.2,460.9 L565.9,460.2 L565.5,459.6 L565.2,458.9 L564.8,458.3 L564.5,457.6 L564.1,457.0 L563.7,456.3 L563.4,455.7 L563.0,455.1 L562.6,454.4 L562.2,453.8 L561.8,453.2 L561.4,452.5 L561.0,451.9 L560.6,451.3 L560.2,450.7 L559.7,450.1 L559.3,449.5 L558.9,448.9 L558.4,448.3 L558.0,447.7 L557.5,447.1 L557.1,446.5 L556.6,445.9 L556.1,445.4 L555.6,444.8 L555.1,444.2 L554.6,443.7 L554.1,443.1 L553.6,442.6 L553.1,442.0 L552.6,441.5 L552.1,440.9 L551.5,440.4 L551.0,439.9 L550.4,439.4 L549.9,438.9 L549.3,438.4 L548.7,437.9 L548.2,437.4 L547.6,436.9 L547.0,436.4 L546.4,436.0 L545.8,435.5 L545.2,435.1 L544.6,434.6 L544.0,434.2 L543.4,433.7 L542.8,433.3 L542.2,432.9 L541.6,432.5 L541.0,432.1 L540.3,431.7 L539.7,431.3 L539.1,430.9 L538.4,430.5 L537.8,430.2 L537.2,429.8 L536.5,429.4 L535.9,429.1 L535.3,428.7 L534.6,428.3 L533.9,428.0 L533.3,427.7 L532.6,427.3 L531.9,427.0 L531.2,426.7 L530.6,426.4 L529.9,426.1 L529.2,425.8 L528.5,425.5 L527.8,425.2 L527.1,425.0 L526.5,424.7 L525.8,424.4 L525.1,424.2 L524.4,423.9 L523.7,423.7 L523.0,423.4 L522.3,423.2 L521.6,423.0 L520.9,422.8 L520.2,422.5 L519.5,422.3 L518.8,422.1 L518.1,421.9 L517.4,421.7 L516.7,421.5 L515.9,421.4 L515.2,421.2 L514.5,421.0 L513.7,420.9 L513.0,420.7 L512.2,420.6 L511.4,420.5 L510.7,420.4 L509.8,420.3 L509.0,420.2 L508.2,420.2 L507.3,420.2 L506.5,420.2 L505.6,420.2 L504.7,420.3 L503.9,420.4 L503.0,420.5 L502.1,420.6 L501.2,420.8 L500.3,421.1 L499.4,421.4 L498.4,421.7 L497.6,422.1 L496.8,422.5 Z" fill="#262626" stroke="#262626" stroke-width="0.4"/>
<path d="M502.6,428.7 Q502.3,425.0 499.8,422.3 M505.6,427.6 Q506.4,424.3 504.9,421.3 M508.5,427.5 Q509.9,424.4 509.0,421.2 M511.6,428.0 Q513.4,425.1 512.8,421.7 M515.5,428.9 Q517.4,426.1 517.1,422.7 M518.7,429.8 Q520.8,427.1 520.6,423.7 M522.5,431.2 Q524.7,428.6 524.7,425.1 M525.6,432.4 Q528.0,429.9 528.1,426.4 M529.2,434.1 Q531.8,431.7 532.1,428.2 M532.2,435.7 Q534.8,433.4 535.4,429.9 M535.0,437.4 Q537.8,435.2 538.5,431.8 M538.4,439.6 Q541.3,437.6 542.2,434.1 M541.0,441.6 Q544.1,439.7 545.2,436.3 M544.1,444.2 Q547.2,442.5 548.6,439.1 M546.4,446.5 Q549.7,444.9 551.3,441.6 M549.1,449.4 Q552.5,448.1 554.4,444.9 M551.1,452.0 Q554.7,450.8 556.7,447.7 M553.1,454.7 Q556.7,453.7 558.9,450.7 M555.3,458.1 Q558.9,457.2 561.4,454.3 M556.9,461.0 Q560.7,460.3 563.2,457.5 M558.8,464.6 Q562.6,464.0 565.3,461.3 M560.2,467.6 Q564.0,467.2 566.9,464.6 M561.7,471.3 Q565.6,471.1 568.6,468.6 M562.9,474.5 Q566.8,474.4 569.9,472.0 M564.0,477.7 Q567.9,477.7 571.0,475.4 M565.2,481.6 Q569.1,481.7 572.3,479.5 M566.1,484.9 Q570.0,485.1 573.3,483.0 M567.1,488.9 Q571.0,489.2 574.4,487.2 M567.8,492.1 Q571.7,492.6 575.1,490.7 M568.5,496.1 Q572.4,496.8 575.9,495.0 M568.9,499.5 Q572.8,500.2 576.4,498.6 M569.3,502.9 Q573.2,503.7 576.8,502.1 M569.7,507.0 Q573.5,507.9 577.2,506.4 M570.0,510.5 Q573.8,511.4 577.5,509.9 M570.3,514.7 Q574.2,515.6 577.8,514.1 M570.6,518.1 Q574.4,519.1 578.1,517.6 M570.8,522.2 Q574.6,523.3 578.3,521.9 M571.0,525.6 Q574.7,526.8 578.5,525.5 M571.0,529.0 Q574.7,530.3 578.5,529.1 M570.8,533.0 Q574.4,534.4 578.2,533.5 M570.6,536.1 Q574.0,537.9 577.9,537.4 M570.2,538.4 Q571.5,541.3 574.4,542.4 M568.1,540.5 Q568.7,543.4 571.3,545.0 M565.5,541.1 Q564.6,544.3 566.2,547.2 M562.5,541.1 Q561.1,544.1 562.1,547.3 M559.5,540.5 Q557.7,543.5 558.2,546.9 M556.0,539.3 Q553.7,542.2 553.6,545.9 M553.2,537.9 Q550.5,540.7 550.0,544.5 M550.0,535.9 Q547.0,538.5 545.9,542.3 M547.3,534.0 Q544.1,536.4 542.8,540.2 M544.1,531.5 Q540.8,533.8 539.4,537.6 M541.5,529.4 Q538.1,531.6 536.6,535.4 M538.9,527.2 Q535.4,529.4 533.8,533.1 M535.8,524.5 Q532.3,526.6 530.6,530.3 M533.2,522.2 Q529.7,524.2 527.9,527.9 M530.3,519.3 Q526.7,521.3 524.8,524.9 M527.8,516.9 Q524.2,518.8 522.3,522.4 M525.0,514.0 Q521.3,515.7 519.3,519.3 M522.7,511.4 Q519.0,513.1 516.9,516.6 M520.5,508.8 Q516.7,510.5 514.5,513.9 M517.9,505.7 Q514.1,507.2 511.8,510.6 M515.9,503.0 Q512.0,504.4 509.5,507.8 M513.4,499.7 Q509.5,501.0 507.0,504.3 M511.5,496.9 Q507.5,498.1 504.9,501.4 M509.2,493.4 Q505.2,494.6 502.5,497.8 M507.5,490.6 Q503.4,491.7 500.5,494.8 M505.8,487.6 Q501.6,488.6 498.6,491.7 M504.0,484.1 Q499.7,484.9 496.5,487.9 M502.6,481.1 Q498.2,481.7 494.8,484.6 M501.1,477.4 Q496.6,477.8 493.0,480.5 M500.0,474.2 Q495.5,474.5 491.7,477.1 M498.9,470.4 Q494.3,470.5 490.3,472.9 M498.0,467.2 Q493.4,467.1 489.3,469.4 M497.3,463.9 Q492.6,463.7 488.4,465.9 M496.5,460.0 Q491.8,459.6 487.5,461.6 M496.1,456.7 Q491.3,456.1 486.9,457.9 M495.8,453.0 Q491.2,451.9 486.5,453.2 M495.9,449.9 Q491.3,448.4 486.6,449.3 M496.3,446.1 Q491.8,444.3 487.1,444.8 M496.8,442.8 Q492.4,440.8 487.7,441.2 M497.4,439.5 Q493.1,437.4 488.4,437.6 M498.3,435.9 Q494.3,433.3 489.6,433.1 M499.2,433.3 Q495.8,430.2 491.3,429.2 M500.5,430.8 Q498.6,427.0 494.9,424.9" fill="none" stroke="#fff" stroke-width="2.3" stroke-linecap="butt"/>
</g>
<g id="c7b">
<!-- left fitting -->
<path d="M458.3,405 L458.3,428 Q467.5,432 476.7,428 L476.7,405" fill="#fff" stroke-width="1.1"/>
<path d="M458.5,409.5 Q467.5,413 476.5,409.5" stroke-width="2"/>
<path d="M458.5,420.8 Q467.5,424 476.5,420.8" stroke-width="1"/>
<ellipse cx="467.5" cy="405" rx="9.2" ry="3" fill="#555" stroke-width="1.2"/>
<line x1="467.5" y1="388.3" x2="467.5" y2="401.7"/>
<path d="M457.5,386 Q454,378 466.5,375.5 Q477,375 478.3,380.5" stroke-width="1"/>
<path d="M462.5,385 L466,387.5 L462.5,390 Z" fill="#222" stroke-width="0.6"/>
<path d="M499.2,383 H477.5 L471.7,400.8"/>
<text x="480.8" y="381.8" font-size="7" stroke="#1c1c1c" stroke-width="0.28">G1/2</text>
<!-- right fitting -->
<path d="M592.3,462 L592.3,474 M604.8,462 L604.8,474" stroke-width="1.2"/>
<path d="M592.5,469.5 Q598.5,472 604.6,469.5" stroke-width="1.8"/>
<path d="M587.4,447.5 Q587,456 589.5,459.5 Q592,462.7 598.5,462.8 Q605,462.7 607.8,459.5 Q610.6,456 610.2,447.5" fill="#fff" stroke-width="1.3"/>
<ellipse cx="598.3" cy="458.4" rx="5" ry="4.3" fill="#fff" stroke-width="1.3"/>
<path d="M588.5,452 Q591,456 593.5,456 M608.5,452 Q606,456 603,456 M589.8,459.5 L593.5,460 M607.5,459.5 L603,460" stroke-width="1"/>
<ellipse cx="598.8" cy="447" rx="11.5" ry="5.5" fill="#fff" stroke-width="1.5"/>
<ellipse cx="598.8" cy="447.3" rx="8.5" ry="3.2" stroke-width="0.9"/>
<path d="M591,447.8 Q598.8,451 606.6,447.8" stroke="#999" stroke-width="0.8"/>
<line x1="598.3" y1="430" x2="598.3" y2="451"/>
<path d="M630,424.2 H608.3 L603.3,441.7"/>
<text x="613.3" y="422.6" font-size="7" stroke="#1c1c1c" stroke-width="0.28">G1/2</text>
<!-- 1500mm -->
<path d="M593.3,581.5 H555 L551,562"/>
<text x="566.4" y="579.8" font-size="6.5" stroke="#1c1c1c" stroke-width="0.28">1500mm</text>
</g>
</g>
</svg>
</body></html>
